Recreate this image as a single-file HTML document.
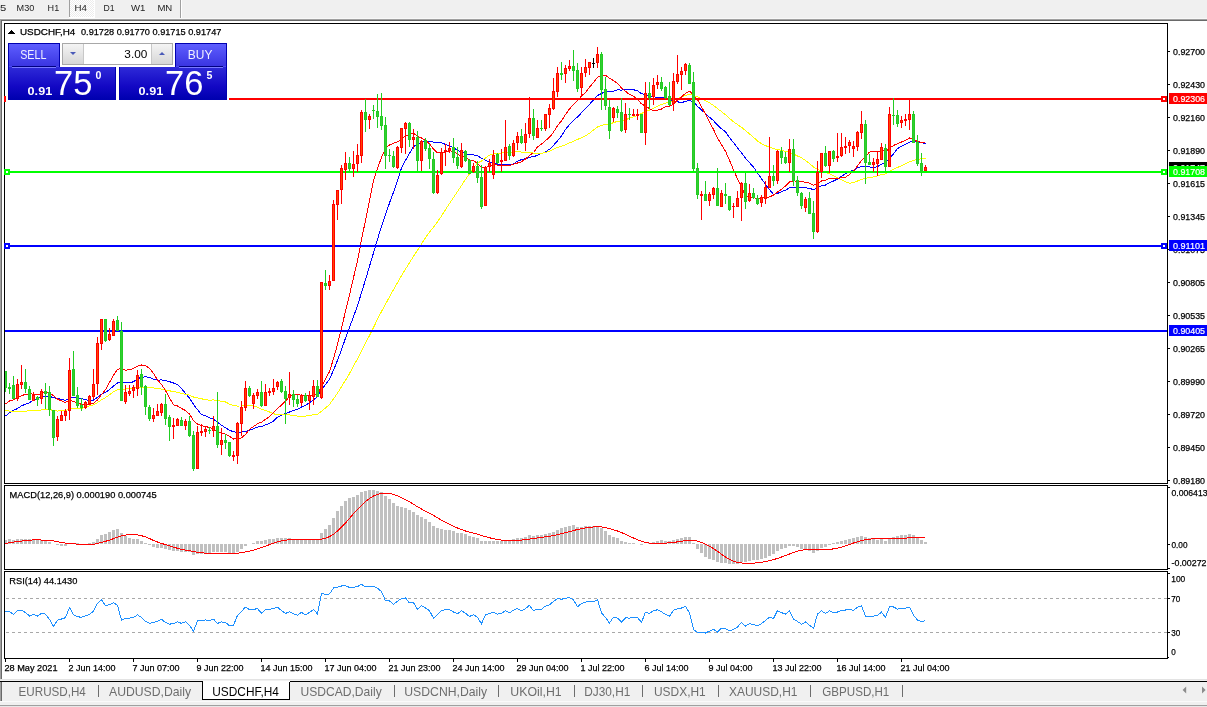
<!DOCTYPE html>
<html><head><meta charset="utf-8"><title>USDCHF,H4</title>
<style>html,body{margin:0;padding:0;background:#fff;overflow:hidden}svg{display:block}text{font-family:"Liberation Sans",Arial,sans-serif}.b{stroke:#000;stroke-width:0.25px}.w{stroke:#fff;stroke-width:0.2px}</style>
</head><body>
<svg width="1207" height="707" viewBox="0 0 1207 707">
<rect x="0" y="0" width="1207" height="19" fill="#f0f0f0"/>
<defs><pattern id="dith" x="0" y="0" width="2" height="2" patternUnits="userSpaceOnUse"><rect width="2" height="2" fill="#ffffff"/><rect width="1" height="1" fill="#ececec"/><rect x="1" y="1" width="1" height="1" fill="#ececec"/></pattern></defs>
<g shape-rendering="crispEdges">
<rect x="69" y="0" width="26" height="18" fill="#ffffff"/>
<rect x="70" y="0" width="24" height="17" fill="url(#dith)"/>
<rect x="69" y="0" width="1" height="17" fill="#a0a0a0"/>
</g>
<rect x="180" y="0" width="1" height="18" fill="#a0a0a0"/>
<rect x="181" y="0" width="1" height="18" fill="#ffffff"/>
<text x="-15.6" y="11" font-size="9.5" fill="#1e1e1e" textLength="21.9" lengthAdjust="spacingAndGlyphs">M15</text>
<text x="16.6" y="11" font-size="9.5" fill="#1e1e1e" textLength="17.7" lengthAdjust="spacingAndGlyphs">M30</text>
<text x="47.6" y="11" font-size="9.5" fill="#1e1e1e" textLength="11.6" lengthAdjust="spacingAndGlyphs">H1</text>
<text x="74.6" y="11" font-size="9.5" fill="#1e1e1e" textLength="12.4" lengthAdjust="spacingAndGlyphs">H4</text>
<text x="103.6" y="11" font-size="9.5" fill="#1e1e1e" textLength="11.1" lengthAdjust="spacingAndGlyphs">D1</text>
<text x="130.9" y="11" font-size="9.5" fill="#1e1e1e" textLength="14.4" lengthAdjust="spacingAndGlyphs">W1</text>
<text x="157.4" y="11" font-size="9.5" fill="#1e1e1e" textLength="14.9" lengthAdjust="spacingAndGlyphs">MN</text>
<rect x="0" y="18" width="1207" height="1" fill="#f8f8f8"/>
<rect x="0" y="19" width="1207" height="1" fill="#a0a0a0"/>
<rect x="0" y="20" width="1207" height="1" fill="#696969"/>
<rect x="0" y="19" width="1" height="661" fill="#a0a0a0"/>
<rect x="1" y="20" width="1" height="660" fill="#696969"/>
<g shape-rendering="crispEdges">
<rect x="4" y="23" width="1164" height="1" fill="#000"/>
<rect x="4" y="483" width="1164" height="1" fill="#000"/>
<rect x="4" y="23" width="1" height="461" fill="#000"/>
<rect x="1167" y="23" width="1" height="461" fill="#000"/>
<rect x="4" y="485" width="1164" height="1" fill="#000"/>
<rect x="4" y="569" width="1164" height="1" fill="#000"/>
<rect x="4" y="485" width="1" height="85" fill="#000"/>
<rect x="1167" y="485" width="1" height="85" fill="#000"/>
<rect x="4" y="571" width="1164" height="1" fill="#000"/>
<rect x="4" y="658" width="1164" height="1" fill="#000"/>
<rect x="4" y="571" width="1" height="88" fill="#000"/>
<rect x="1167" y="571" width="1" height="88" fill="#000"/>
</g>
<defs><clipPath id="cm"><rect x="5" y="24" width="1162" height="459"/></clipPath><clipPath id="cd"><rect x="5" y="486" width="1162" height="83"/></clipPath><clipPath id="cr"><rect x="5" y="572" width="1162" height="86"/></clipPath></defs>
<g clip-path="url(#cm)" shape-rendering="crispEdges">
<polyline points="5.50,415.93 9.50,412.83 13.50,410.21 17.50,408.56 21.50,405.84 25.50,404.17 29.50,402.70 33.50,399.97 37.50,398.44 41.50,397.28 45.50,396.22 49.50,396.32 53.50,397.75 57.50,398.28 61.50,399.47 65.50,400.45 69.50,398.47 73.50,397.39 77.50,397.89 81.50,398.50 85.50,399.88 89.50,400.28 93.50,400.04 97.50,397.38 101.50,394.30 105.50,392.33 109.50,389.72 113.50,385.94 117.50,382.90 121.50,382.94 125.50,382.97 129.50,382.83 133.50,381.74 137.50,378.74 141.50,377.21 145.50,376.83 149.50,377.24 153.50,379.38 157.50,380.08 161.50,379.98 165.50,380.48 169.50,381.65 173.50,383.01 177.50,384.69 181.50,388.64 185.50,393.47 189.50,398.01 193.50,404.40 197.50,409.70 201.50,414.46 205.50,415.77 209.50,417.65 213.50,419.35 217.50,422.09 221.50,425.19 225.50,427.83 229.50,430.16 233.50,431.86 237.50,432.23 241.50,432.04 245.50,431.30 249.50,430.22 253.50,428.70 257.50,427.13 261.50,426.52 265.50,424.90 269.50,423.48 273.50,421.20 277.50,417.09 281.50,415.16 285.50,413.65 289.50,412.00 293.50,410.49 297.50,409.40 301.50,407.04 305.50,405.20 309.50,402.94 313.50,399.62 317.50,396.85 321.50,390.14 325.50,384.38 329.50,379.29 333.50,370.14 337.50,360.40 341.50,349.72 345.50,338.12 349.50,327.48 353.50,316.69 357.50,305.58 361.50,292.71 365.50,279.77 369.50,266.27 373.50,252.78 377.50,239.30 381.50,226.07 385.50,214.67 389.50,202.99 393.50,192.14 397.50,180.76 401.50,167.96 405.50,160.39 409.50,153.42 413.50,146.57 417.50,144.50 421.50,142.16 425.50,141.25 429.50,141.09 433.50,142.25 437.50,142.76 441.50,142.62 445.50,144.44 449.50,145.77 453.50,147.77 457.50,150.36 461.50,151.97 465.50,153.64 469.50,154.49 473.50,154.96 477.50,155.48 481.50,158.33 485.50,160.18 489.50,162.09 493.50,162.82 497.50,164.06 501.50,164.04 505.50,164.32 509.50,164.64 513.50,163.86 517.50,161.14 521.50,159.63 525.50,158.77 529.50,157.24 533.50,156.69 537.50,155.27 541.50,153.51 545.50,151.79 549.50,149.28 553.50,145.34 557.50,140.91 561.50,136.01 565.50,129.38 569.50,124.58 573.50,120.20 577.50,117.04 581.50,112.75 585.50,108.31 589.50,104.27 593.50,99.85 597.50,95.61 601.50,93.42 605.50,91.68 609.50,91.52 613.50,91.05 617.50,89.93 621.50,90.06 625.50,89.38 629.50,89.43 633.50,89.72 637.50,90.82 641.50,93.66 645.50,94.51 649.50,95.94 653.50,96.84 657.50,97.37 661.50,97.39 665.50,98.58 669.50,100.38 673.50,101.29 677.50,101.81 681.50,102.61 685.50,101.36 689.50,100.27 693.50,102.08 697.50,106.24 701.50,110.10 705.50,113.44 709.50,117.23 713.50,120.69 717.50,125.09 721.50,128.84 725.50,131.88 729.50,137.46 733.50,142.59 737.50,147.97 741.50,152.77 745.50,158.14 749.50,162.67 753.50,167.11 757.50,172.97 761.50,178.83 765.50,184.37 769.50,189.72 773.50,194.35 777.50,193.50 781.50,191.70 785.50,190.23 789.50,187.78 793.50,187.18 797.50,187.41 801.50,187.38 805.50,187.65 809.50,188.49 813.50,189.53 817.50,187.93 821.50,185.80 825.50,185.02 829.50,182.61 833.50,180.98 837.50,178.96 841.50,176.25 845.50,173.80 849.50,171.66 853.50,170.23 857.50,167.90 861.50,166.62 865.50,166.87 869.50,166.96 873.50,167.58 877.50,166.52 881.50,164.33 885.50,162.50 889.50,158.47 893.50,153.79 897.50,148.63 901.50,146.16 905.50,144.51 909.50,142.02 913.50,141.61 917.50,141.86 921.50,142.60 925.50,143.55" fill="none" stroke="#0000ff" stroke-width="1"/>
<polyline points="5.50,410.09 9.50,411.06 13.50,411.90 17.50,411.53 21.50,411.27 25.50,411.18 29.50,410.67 33.50,410.21 37.50,410.11 41.50,409.99 45.50,409.69 49.50,409.59 53.50,410.44 57.50,411.05 61.50,410.67 65.50,410.36 69.50,409.24 73.50,408.55 77.50,408.37 81.50,408.52 85.50,407.22 89.50,405.78 93.50,404.92 97.50,402.51 101.50,399.90 105.50,397.63 109.50,394.68 113.50,391.89 117.50,389.77 121.50,389.41 125.50,389.01 129.50,388.58 133.50,388.06 137.50,387.68 141.50,387.61 145.50,387.49 149.50,387.49 153.50,387.99 157.50,388.39 161.50,389.14 165.50,389.91 169.50,390.85 173.50,391.50 177.50,392.38 181.50,393.49 185.50,394.28 189.50,395.17 193.50,397.01 197.50,397.80 201.50,398.79 205.50,399.68 209.50,400.21 213.50,399.92 217.50,400.56 221.50,401.19 225.50,401.98 229.50,404.12 233.50,405.59 237.50,406.02 241.50,406.00 245.50,405.63 249.50,405.62 253.50,405.90 257.50,407.12 261.50,409.30 265.50,410.59 269.50,412.00 273.50,413.68 277.50,414.96 281.50,414.71 285.50,414.90 289.50,414.99 293.50,415.31 297.50,416.02 301.50,416.22 305.50,416.08 309.50,415.48 313.50,414.75 317.50,414.40 321.50,411.36 325.50,408.04 329.50,404.39 333.50,398.87 337.50,393.14 341.50,386.69 345.50,380.25 349.50,373.56 353.50,365.94 357.50,359.02 361.50,351.04 365.50,343.31 369.50,335.42 373.50,327.54 377.50,319.34 381.50,311.48 385.50,304.31 389.50,296.82 393.50,289.62 397.50,282.73 401.50,275.75 405.50,269.13 409.50,262.72 413.50,256.27 417.50,250.49 421.50,243.85 425.50,237.77 429.50,231.99 433.50,227.11 437.50,221.92 441.50,215.94 445.50,209.70 449.50,203.54 453.50,197.49 457.50,191.54 461.50,185.43 465.50,179.41 469.50,173.88 473.50,168.38 477.50,162.90 481.50,161.03 485.50,158.05 489.50,155.10 493.50,153.88 497.50,153.19 501.50,153.00 505.50,152.60 509.50,152.28 513.50,151.75 517.50,151.28 521.50,152.06 525.50,152.41 529.50,152.46 533.50,153.10 537.50,153.38 541.50,153.45 545.50,152.42 549.50,151.21 553.50,149.31 557.50,147.45 561.50,146.12 565.50,144.75 569.50,142.91 573.50,141.26 577.50,139.46 581.50,137.75 585.50,135.71 589.50,133.28 593.50,130.02 597.50,127.00 601.50,125.45 605.50,124.36 609.50,123.93 613.50,122.68 617.50,121.37 621.50,120.88 625.50,119.72 629.50,118.26 633.50,116.96 637.50,115.36 641.50,113.50 645.50,111.65 649.50,110.03 653.50,108.28 657.50,106.25 661.50,104.46 665.50,103.24 669.50,101.97 673.50,100.43 677.50,98.88 681.50,97.07 685.50,95.31 689.50,94.45 693.50,95.26 697.50,96.95 701.50,98.58 705.50,100.74 709.50,102.89 713.50,105.32 717.50,108.65 721.50,111.60 725.50,114.81 729.50,118.41 733.50,121.78 737.50,124.51 741.50,127.26 745.50,130.62 749.50,133.90 753.50,137.28 757.50,141.04 761.50,143.71 765.50,145.73 769.50,146.87 773.50,148.69 777.50,149.63 781.50,150.31 785.50,151.53 789.50,152.37 793.50,154.06 797.50,156.03 801.50,157.85 805.50,160.50 809.50,163.40 813.50,167.07 817.50,169.32 821.50,170.93 825.50,172.64 829.50,173.79 833.50,175.74 837.50,177.79 841.50,179.69 845.50,181.75 849.50,183.21 853.50,182.64 857.50,181.05 861.50,179.30 865.50,178.36 869.50,177.63 873.50,176.99 877.50,175.81 881.50,174.66 885.50,173.93 889.50,171.53 893.50,169.28 897.50,167.42 901.50,165.85 905.50,163.78 909.50,161.80 913.50,160.41 917.50,159.41 921.50,158.77 925.50,158.27" fill="none" stroke="#ffff00" stroke-width="1"/>
<polyline points="5.50,404.10 9.50,401.00 13.50,399.80 17.50,397.53 21.50,395.68 25.50,394.32 29.50,393.78 33.50,394.14 37.50,394.88 41.50,393.44 45.50,391.61 49.50,392.67 53.50,395.73 57.50,398.99 61.50,400.91 65.50,402.46 69.50,400.39 73.50,401.28 77.50,402.97 81.50,404.33 85.50,404.47 89.50,404.57 93.50,403.40 97.50,399.94 101.50,394.64 105.50,389.69 109.50,382.28 113.50,375.28 117.50,369.28 121.50,368.61 125.50,370.19 129.50,369.78 133.50,368.44 137.50,366.09 141.50,364.99 145.50,365.74 149.50,368.26 153.50,373.40 157.50,379.95 161.50,384.44 165.50,390.46 169.50,398.03 173.50,404.74 177.50,406.02 181.50,408.45 185.50,410.59 189.50,414.09 193.50,420.78 197.50,424.00 201.50,425.73 205.50,426.41 209.50,427.59 213.50,428.69 217.50,431.61 221.50,433.14 225.50,434.26 229.50,436.46 233.50,439.01 237.50,438.79 241.50,437.81 245.50,434.37 249.50,429.19 253.50,426.54 257.50,423.75 261.50,422.14 265.50,419.34 269.50,416.79 273.50,412.76 277.50,408.63 281.50,404.99 285.50,400.96 289.50,396.63 293.50,394.97 297.50,394.73 301.50,395.24 305.50,395.62 309.50,395.62 313.50,395.19 317.50,394.51 321.50,386.64 325.50,379.16 329.50,371.49 333.50,358.77 337.50,344.39 341.50,327.86 345.50,311.33 349.50,294.82 353.50,277.71 357.50,260.56 361.50,239.89 365.50,220.24 369.50,200.94 373.50,180.51 377.50,168.71 381.50,157.26 385.50,148.31 389.50,144.89 393.50,143.24 397.50,141.75 401.50,139.26 405.50,136.00 409.50,134.26 413.50,132.98 417.50,136.46 421.50,137.96 425.50,140.34 429.50,143.79 433.50,149.25 437.50,152.74 441.50,152.49 445.50,152.06 449.50,150.69 453.50,151.44 457.50,154.11 461.50,156.09 465.50,157.59 469.50,160.20 473.50,160.58 477.50,163.21 481.50,167.37 485.50,167.91 489.50,165.75 493.50,164.35 497.50,165.13 501.50,165.86 505.50,165.79 509.50,165.65 513.50,164.04 517.50,163.00 521.50,161.74 525.50,158.91 529.50,155.47 533.50,152.51 537.50,146.85 541.50,144.11 545.50,140.64 549.50,137.28 553.50,132.13 557.50,125.89 561.50,120.75 565.50,114.48 569.50,108.99 573.50,104.35 577.50,100.46 581.50,96.10 585.50,92.47 589.50,87.16 593.50,82.52 597.50,77.19 601.50,75.45 605.50,75.34 609.50,78.18 613.50,80.68 617.50,83.39 621.50,87.87 625.50,91.31 629.50,94.49 633.50,96.30 637.50,99.24 641.50,103.91 645.50,106.11 649.50,108.61 653.50,110.84 657.50,110.27 661.50,109.02 665.50,106.68 669.50,106.47 673.50,104.20 677.50,100.15 681.50,97.04 685.50,93.34 689.50,91.16 693.50,95.06 697.50,99.55 701.50,106.77 705.50,114.11 709.50,121.90 713.50,129.46 717.50,137.85 721.50,144.64 725.50,151.16 729.50,160.37 733.50,169.78 737.50,178.86 741.50,187.39 745.50,195.82 749.50,197.57 753.50,197.78 757.50,198.49 761.50,198.24 765.50,197.74 769.50,196.89 773.50,195.06 777.50,192.04 781.50,189.28 785.50,185.94 789.50,181.89 793.50,180.71 797.50,181.43 801.50,181.71 805.50,182.11 809.50,183.23 813.50,185.22 817.50,183.44 821.50,181.01 825.50,180.33 829.50,178.21 833.50,178.79 837.50,178.67 841.50,177.51 845.50,177.27 849.50,174.46 853.50,171.11 857.50,165.83 861.50,160.50 865.50,156.85 869.50,152.07 873.50,151.36 877.50,151.79 881.50,150.40 885.50,151.54 889.50,148.34 893.50,145.46 897.50,143.79 901.50,141.98 905.50,140.30 909.50,138.01 913.50,138.79 917.50,141.65 921.50,142.26 925.50,142.41" fill="none" stroke="#ff0000" stroke-width="1"/>
<rect x="4" y="98" width="1163" height="2" fill="#ff0000"/>
<rect x="1161" y="96" width="6" height="6" fill="#ff0000"/>
<rect x="1163" y="98" width="2" height="2" fill="#ffffff"/>
<rect x="4" y="171" width="1163" height="2" fill="#00ff00"/>
<rect x="1161" y="169" width="6" height="6" fill="#00ff00"/>
<rect x="1163" y="171" width="2" height="2" fill="#ffffff"/>
<rect x="4" y="245" width="1163" height="2" fill="#0000ff"/>
<rect x="1161" y="243" width="6" height="6" fill="#0000ff"/>
<rect x="1163" y="245" width="2" height="2" fill="#ffffff"/>
<rect x="4" y="330" width="1163" height="2" fill="#0000ff"/>
<rect x="5" y="371" width="1" height="21" fill="#22cc22"/>
<rect x="4" y="371" width="3" height="17" fill="#22cc22"/>
<rect x="5" y="372" width="1" height="15" fill="#32cd32"/>
<rect x="9" y="383" width="1" height="11" fill="#22cc22"/>
<rect x="8" y="387" width="3" height="2" fill="#22cc22"/>
<rect x="13" y="376" width="1" height="23" fill="#22cc22"/>
<rect x="12" y="385" width="3" height="14" fill="#22cc22"/>
<rect x="13" y="386" width="1" height="12" fill="#32cd32"/>
<rect x="17" y="379" width="1" height="22" fill="#ff0000"/>
<rect x="16" y="384" width="3" height="15" fill="#ff0000"/>
<rect x="17" y="385" width="1" height="13" fill="#ff4500"/>
<rect x="21" y="365" width="1" height="24" fill="#ff0000"/>
<rect x="20" y="382" width="3" height="3" fill="#ff0000"/>
<rect x="21" y="383" width="1" height="1" fill="#ff4500"/>
<rect x="25" y="369" width="1" height="24" fill="#22cc22"/>
<rect x="24" y="382" width="3" height="7" fill="#22cc22"/>
<rect x="25" y="383" width="1" height="5" fill="#32cd32"/>
<rect x="29" y="386" width="1" height="14" fill="#22cc22"/>
<rect x="28" y="389" width="3" height="11" fill="#22cc22"/>
<rect x="29" y="390" width="1" height="9" fill="#32cd32"/>
<rect x="33" y="392" width="1" height="9" fill="#ff0000"/>
<rect x="32" y="395" width="3" height="6" fill="#ff0000"/>
<rect x="33" y="396" width="1" height="4" fill="#ff4500"/>
<rect x="37" y="396" width="1" height="10" fill="#22cc22"/>
<rect x="36" y="397" width="3" height="3" fill="#22cc22"/>
<rect x="37" y="398" width="1" height="1" fill="#32cd32"/>
<rect x="41" y="389" width="1" height="15" fill="#ff0000"/>
<rect x="40" y="391" width="3" height="8" fill="#ff0000"/>
<rect x="41" y="392" width="1" height="6" fill="#ff4500"/>
<rect x="45" y="383" width="1" height="26" fill="#22cc22"/>
<rect x="44" y="391" width="3" height="3" fill="#22cc22"/>
<rect x="45" y="392" width="1" height="1" fill="#32cd32"/>
<rect x="49" y="386" width="1" height="30" fill="#22cc22"/>
<rect x="48" y="392" width="3" height="18" fill="#22cc22"/>
<rect x="49" y="393" width="1" height="16" fill="#32cd32"/>
<rect x="53" y="410" width="1" height="36" fill="#22cc22"/>
<rect x="52" y="410" width="3" height="28" fill="#22cc22"/>
<rect x="53" y="411" width="1" height="26" fill="#32cd32"/>
<rect x="57" y="416" width="1" height="25" fill="#ff0000"/>
<rect x="56" y="419" width="3" height="18" fill="#ff0000"/>
<rect x="57" y="420" width="1" height="16" fill="#ff4500"/>
<rect x="61" y="411" width="1" height="10" fill="#ff0000"/>
<rect x="60" y="415" width="3" height="6" fill="#ff0000"/>
<rect x="61" y="416" width="1" height="4" fill="#ff4500"/>
<rect x="65" y="409" width="1" height="12" fill="#ff0000"/>
<rect x="64" y="411" width="3" height="5" fill="#ff0000"/>
<rect x="65" y="412" width="1" height="3" fill="#ff4500"/>
<rect x="69" y="358" width="1" height="62" fill="#ff0000"/>
<rect x="68" y="370" width="3" height="41" fill="#ff0000"/>
<rect x="69" y="371" width="1" height="39" fill="#ff4500"/>
<rect x="73" y="351" width="1" height="45" fill="#22cc22"/>
<rect x="72" y="369" width="3" height="27" fill="#22cc22"/>
<rect x="73" y="370" width="1" height="25" fill="#32cd32"/>
<rect x="77" y="387" width="1" height="21" fill="#22cc22"/>
<rect x="76" y="395" width="3" height="11" fill="#22cc22"/>
<rect x="77" y="396" width="1" height="9" fill="#32cd32"/>
<rect x="81" y="398" width="1" height="13" fill="#22cc22"/>
<rect x="80" y="405" width="3" height="3" fill="#22cc22"/>
<rect x="81" y="406" width="1" height="1" fill="#32cd32"/>
<rect x="85" y="401" width="1" height="8" fill="#ff0000"/>
<rect x="84" y="402" width="3" height="6" fill="#ff0000"/>
<rect x="85" y="403" width="1" height="4" fill="#ff4500"/>
<rect x="89" y="395" width="1" height="10" fill="#ff0000"/>
<rect x="88" y="396" width="3" height="8" fill="#ff0000"/>
<rect x="89" y="397" width="1" height="6" fill="#ff4500"/>
<rect x="93" y="369" width="1" height="30" fill="#ff0000"/>
<rect x="92" y="384" width="3" height="13" fill="#ff0000"/>
<rect x="93" y="385" width="1" height="11" fill="#ff4500"/>
<rect x="97" y="337" width="1" height="58" fill="#ff0000"/>
<rect x="96" y="343" width="3" height="41" fill="#ff0000"/>
<rect x="97" y="344" width="1" height="39" fill="#ff4500"/>
<rect x="101" y="319" width="1" height="31" fill="#ff0000"/>
<rect x="100" y="319" width="3" height="25" fill="#ff0000"/>
<rect x="101" y="320" width="1" height="23" fill="#ff4500"/>
<rect x="105" y="319" width="1" height="23" fill="#22cc22"/>
<rect x="104" y="319" width="3" height="22" fill="#22cc22"/>
<rect x="105" y="320" width="1" height="20" fill="#32cd32"/>
<rect x="109" y="328" width="1" height="13" fill="#ff0000"/>
<rect x="108" y="334" width="3" height="6" fill="#ff0000"/>
<rect x="109" y="335" width="1" height="4" fill="#ff4500"/>
<rect x="113" y="319" width="1" height="17" fill="#ff0000"/>
<rect x="112" y="321" width="3" height="15" fill="#ff0000"/>
<rect x="113" y="322" width="1" height="13" fill="#ff4500"/>
<rect x="117" y="316" width="1" height="15" fill="#22cc22"/>
<rect x="116" y="320" width="3" height="11" fill="#22cc22"/>
<rect x="117" y="321" width="1" height="9" fill="#32cd32"/>
<rect x="121" y="322" width="1" height="79" fill="#22cc22"/>
<rect x="120" y="331" width="3" height="70" fill="#22cc22"/>
<rect x="121" y="332" width="1" height="68" fill="#32cd32"/>
<rect x="125" y="385" width="1" height="19" fill="#ff0000"/>
<rect x="124" y="392" width="3" height="10" fill="#ff0000"/>
<rect x="125" y="393" width="1" height="8" fill="#ff4500"/>
<rect x="129" y="385" width="1" height="11" fill="#ff0000"/>
<rect x="128" y="391" width="3" height="3" fill="#ff0000"/>
<rect x="129" y="392" width="1" height="1" fill="#ff4500"/>
<rect x="133" y="385" width="1" height="13" fill="#ff0000"/>
<rect x="132" y="387" width="3" height="4" fill="#ff0000"/>
<rect x="133" y="388" width="1" height="2" fill="#ff4500"/>
<rect x="137" y="370" width="1" height="26" fill="#ff0000"/>
<rect x="136" y="375" width="3" height="14" fill="#ff0000"/>
<rect x="137" y="376" width="1" height="12" fill="#ff4500"/>
<rect x="141" y="369" width="1" height="26" fill="#22cc22"/>
<rect x="140" y="374" width="3" height="13" fill="#22cc22"/>
<rect x="141" y="375" width="1" height="11" fill="#32cd32"/>
<rect x="145" y="385" width="1" height="30" fill="#22cc22"/>
<rect x="144" y="386" width="3" height="21" fill="#22cc22"/>
<rect x="145" y="387" width="1" height="19" fill="#32cd32"/>
<rect x="149" y="405" width="1" height="16" fill="#22cc22"/>
<rect x="148" y="407" width="3" height="12" fill="#22cc22"/>
<rect x="149" y="408" width="1" height="10" fill="#32cd32"/>
<rect x="153" y="408" width="1" height="14" fill="#ff0000"/>
<rect x="152" y="415" width="3" height="4" fill="#ff0000"/>
<rect x="153" y="416" width="1" height="2" fill="#ff4500"/>
<rect x="157" y="404" width="1" height="12" fill="#ff0000"/>
<rect x="156" y="411" width="3" height="5" fill="#ff0000"/>
<rect x="157" y="412" width="1" height="3" fill="#ff4500"/>
<rect x="161" y="403" width="1" height="13" fill="#ff0000"/>
<rect x="160" y="404" width="3" height="9" fill="#ff0000"/>
<rect x="161" y="405" width="1" height="7" fill="#ff4500"/>
<rect x="165" y="394" width="1" height="31" fill="#22cc22"/>
<rect x="164" y="404" width="3" height="15" fill="#22cc22"/>
<rect x="165" y="405" width="1" height="13" fill="#32cd32"/>
<rect x="169" y="415" width="1" height="26" fill="#22cc22"/>
<rect x="168" y="417" width="3" height="10" fill="#22cc22"/>
<rect x="169" y="418" width="1" height="8" fill="#32cd32"/>
<rect x="173" y="418" width="1" height="21" fill="#ff0000"/>
<rect x="172" y="425" width="3" height="2" fill="#ff0000"/>
<rect x="177" y="418" width="1" height="8" fill="#ff0000"/>
<rect x="176" y="419" width="3" height="7" fill="#ff0000"/>
<rect x="177" y="420" width="1" height="5" fill="#ff4500"/>
<rect x="181" y="417" width="1" height="9" fill="#22cc22"/>
<rect x="180" y="420" width="3" height="6" fill="#22cc22"/>
<rect x="181" y="421" width="1" height="4" fill="#32cd32"/>
<rect x="185" y="419" width="1" height="11" fill="#ff0000"/>
<rect x="184" y="421" width="3" height="5" fill="#ff0000"/>
<rect x="185" y="422" width="1" height="3" fill="#ff4500"/>
<rect x="189" y="416" width="1" height="21" fill="#22cc22"/>
<rect x="188" y="421" width="3" height="15" fill="#22cc22"/>
<rect x="189" y="422" width="1" height="13" fill="#32cd32"/>
<rect x="193" y="431" width="1" height="40" fill="#22cc22"/>
<rect x="192" y="435" width="3" height="34" fill="#22cc22"/>
<rect x="193" y="436" width="1" height="32" fill="#32cd32"/>
<rect x="197" y="426" width="1" height="43" fill="#ff0000"/>
<rect x="196" y="432" width="3" height="37" fill="#ff0000"/>
<rect x="197" y="433" width="1" height="35" fill="#ff4500"/>
<rect x="201" y="424" width="1" height="12" fill="#ff0000"/>
<rect x="200" y="431" width="3" height="2" fill="#ff0000"/>
<rect x="205" y="426" width="1" height="11" fill="#ff0000"/>
<rect x="204" y="429" width="3" height="3" fill="#ff0000"/>
<rect x="205" y="430" width="1" height="1" fill="#ff4500"/>
<rect x="209" y="427" width="1" height="7" fill="#22cc22"/>
<rect x="208" y="430" width="3" height="1" fill="#22cc22"/>
<rect x="213" y="416" width="1" height="21" fill="#ff0000"/>
<rect x="212" y="426" width="3" height="5" fill="#ff0000"/>
<rect x="213" y="427" width="1" height="3" fill="#ff4500"/>
<rect x="217" y="392" width="1" height="56" fill="#22cc22"/>
<rect x="216" y="426" width="3" height="19" fill="#22cc22"/>
<rect x="217" y="427" width="1" height="17" fill="#32cd32"/>
<rect x="221" y="428" width="1" height="27" fill="#ff0000"/>
<rect x="220" y="440" width="3" height="5" fill="#ff0000"/>
<rect x="221" y="441" width="1" height="3" fill="#ff4500"/>
<rect x="225" y="434" width="1" height="15" fill="#22cc22"/>
<rect x="224" y="440" width="3" height="3" fill="#22cc22"/>
<rect x="225" y="441" width="1" height="1" fill="#32cd32"/>
<rect x="229" y="442" width="1" height="15" fill="#22cc22"/>
<rect x="228" y="442" width="3" height="14" fill="#22cc22"/>
<rect x="229" y="443" width="1" height="12" fill="#32cd32"/>
<rect x="233" y="451" width="1" height="10" fill="#ff0000"/>
<rect x="232" y="455" width="3" height="2" fill="#ff0000"/>
<rect x="237" y="422" width="1" height="42" fill="#ff0000"/>
<rect x="236" y="423" width="3" height="33" fill="#ff0000"/>
<rect x="237" y="424" width="1" height="31" fill="#ff4500"/>
<rect x="241" y="401" width="1" height="35" fill="#ff0000"/>
<rect x="240" y="407" width="3" height="17" fill="#ff0000"/>
<rect x="241" y="408" width="1" height="15" fill="#ff4500"/>
<rect x="245" y="381" width="1" height="30" fill="#ff0000"/>
<rect x="244" y="388" width="3" height="20" fill="#ff0000"/>
<rect x="245" y="389" width="1" height="18" fill="#ff4500"/>
<rect x="249" y="386" width="1" height="11" fill="#22cc22"/>
<rect x="248" y="388" width="3" height="8" fill="#22cc22"/>
<rect x="249" y="389" width="1" height="6" fill="#32cd32"/>
<rect x="253" y="393" width="1" height="16" fill="#ff0000"/>
<rect x="252" y="395" width="3" height="9" fill="#ff0000"/>
<rect x="253" y="396" width="1" height="7" fill="#ff4500"/>
<rect x="257" y="389" width="1" height="10" fill="#ff0000"/>
<rect x="256" y="392" width="3" height="4" fill="#ff0000"/>
<rect x="257" y="393" width="1" height="2" fill="#ff4500"/>
<rect x="261" y="381" width="1" height="26" fill="#22cc22"/>
<rect x="260" y="392" width="3" height="14" fill="#22cc22"/>
<rect x="261" y="393" width="1" height="12" fill="#32cd32"/>
<rect x="265" y="384" width="1" height="22" fill="#ff0000"/>
<rect x="264" y="392" width="3" height="14" fill="#ff0000"/>
<rect x="265" y="393" width="1" height="12" fill="#ff4500"/>
<rect x="269" y="388" width="1" height="8" fill="#ff0000"/>
<rect x="268" y="391" width="3" height="2" fill="#ff0000"/>
<rect x="273" y="379" width="1" height="16" fill="#ff0000"/>
<rect x="272" y="388" width="3" height="4" fill="#ff0000"/>
<rect x="273" y="389" width="1" height="2" fill="#ff4500"/>
<rect x="277" y="381" width="1" height="9" fill="#ff0000"/>
<rect x="276" y="382" width="3" height="5" fill="#ff0000"/>
<rect x="277" y="383" width="1" height="3" fill="#ff4500"/>
<rect x="281" y="379" width="1" height="14" fill="#22cc22"/>
<rect x="280" y="381" width="3" height="11" fill="#22cc22"/>
<rect x="281" y="382" width="1" height="9" fill="#32cd32"/>
<rect x="285" y="386" width="1" height="38" fill="#22cc22"/>
<rect x="284" y="391" width="3" height="8" fill="#22cc22"/>
<rect x="285" y="392" width="1" height="6" fill="#32cd32"/>
<rect x="289" y="372" width="1" height="33" fill="#ff0000"/>
<rect x="288" y="394" width="3" height="4" fill="#ff0000"/>
<rect x="289" y="395" width="1" height="2" fill="#ff4500"/>
<rect x="293" y="390" width="1" height="17" fill="#22cc22"/>
<rect x="292" y="394" width="3" height="6" fill="#22cc22"/>
<rect x="293" y="395" width="1" height="4" fill="#32cd32"/>
<rect x="297" y="395" width="1" height="12" fill="#22cc22"/>
<rect x="296" y="399" width="3" height="5" fill="#22cc22"/>
<rect x="297" y="400" width="1" height="3" fill="#32cd32"/>
<rect x="301" y="394" width="1" height="12" fill="#ff0000"/>
<rect x="300" y="395" width="3" height="8" fill="#ff0000"/>
<rect x="301" y="396" width="1" height="6" fill="#ff4500"/>
<rect x="305" y="393" width="1" height="9" fill="#22cc22"/>
<rect x="304" y="395" width="3" height="6" fill="#22cc22"/>
<rect x="305" y="396" width="1" height="4" fill="#32cd32"/>
<rect x="309" y="391" width="1" height="19" fill="#ff0000"/>
<rect x="308" y="395" width="3" height="6" fill="#ff0000"/>
<rect x="309" y="396" width="1" height="4" fill="#ff4500"/>
<rect x="313" y="380" width="1" height="25" fill="#ff0000"/>
<rect x="312" y="386" width="3" height="11" fill="#ff0000"/>
<rect x="313" y="387" width="1" height="9" fill="#ff4500"/>
<rect x="317" y="380" width="1" height="17" fill="#22cc22"/>
<rect x="316" y="386" width="3" height="11" fill="#22cc22"/>
<rect x="317" y="387" width="1" height="9" fill="#32cd32"/>
<rect x="321" y="282" width="1" height="117" fill="#ff0000"/>
<rect x="320" y="282" width="3" height="116" fill="#ff0000"/>
<rect x="321" y="283" width="1" height="114" fill="#ff4500"/>
<rect x="325" y="270" width="1" height="20" fill="#22cc22"/>
<rect x="324" y="283" width="3" height="3" fill="#22cc22"/>
<rect x="325" y="284" width="1" height="1" fill="#32cd32"/>
<rect x="329" y="275" width="1" height="15" fill="#ff0000"/>
<rect x="328" y="281" width="3" height="5" fill="#ff0000"/>
<rect x="329" y="282" width="1" height="3" fill="#ff4500"/>
<rect x="333" y="200" width="1" height="81" fill="#ff0000"/>
<rect x="332" y="204" width="3" height="77" fill="#ff0000"/>
<rect x="333" y="205" width="1" height="75" fill="#ff4500"/>
<rect x="337" y="190" width="1" height="30" fill="#ff0000"/>
<rect x="336" y="190" width="3" height="15" fill="#ff0000"/>
<rect x="337" y="191" width="1" height="13" fill="#ff4500"/>
<rect x="341" y="165" width="1" height="39" fill="#ff0000"/>
<rect x="340" y="168" width="3" height="22" fill="#ff0000"/>
<rect x="341" y="169" width="1" height="20" fill="#ff4500"/>
<rect x="345" y="152" width="1" height="28" fill="#ff0000"/>
<rect x="344" y="163" width="3" height="7" fill="#ff0000"/>
<rect x="345" y="164" width="1" height="5" fill="#ff4500"/>
<rect x="349" y="157" width="1" height="15" fill="#22cc22"/>
<rect x="348" y="163" width="3" height="6" fill="#22cc22"/>
<rect x="349" y="164" width="1" height="4" fill="#32cd32"/>
<rect x="353" y="151" width="1" height="26" fill="#ff0000"/>
<rect x="352" y="164" width="3" height="5" fill="#ff0000"/>
<rect x="353" y="165" width="1" height="3" fill="#ff4500"/>
<rect x="357" y="144" width="1" height="28" fill="#ff0000"/>
<rect x="356" y="155" width="3" height="9" fill="#ff0000"/>
<rect x="357" y="156" width="1" height="7" fill="#ff4500"/>
<rect x="361" y="110" width="1" height="53" fill="#ff0000"/>
<rect x="360" y="112" width="3" height="44" fill="#ff0000"/>
<rect x="361" y="113" width="1" height="42" fill="#ff4500"/>
<rect x="365" y="99" width="1" height="33" fill="#22cc22"/>
<rect x="364" y="112" width="3" height="8" fill="#22cc22"/>
<rect x="365" y="113" width="1" height="6" fill="#32cd32"/>
<rect x="369" y="114" width="1" height="15" fill="#ff0000"/>
<rect x="368" y="116" width="3" height="4" fill="#ff0000"/>
<rect x="369" y="117" width="1" height="2" fill="#ff4500"/>
<rect x="373" y="105" width="1" height="14" fill="#22cc22"/>
<rect x="372" y="110" width="3" height="1" fill="#22cc22"/>
<rect x="377" y="94" width="1" height="34" fill="#22cc22"/>
<rect x="376" y="111" width="3" height="6" fill="#22cc22"/>
<rect x="377" y="112" width="1" height="4" fill="#32cd32"/>
<rect x="381" y="93" width="1" height="37" fill="#22cc22"/>
<rect x="380" y="116" width="3" height="10" fill="#22cc22"/>
<rect x="381" y="117" width="1" height="8" fill="#32cd32"/>
<rect x="385" y="117" width="1" height="52" fill="#22cc22"/>
<rect x="384" y="125" width="3" height="31" fill="#22cc22"/>
<rect x="385" y="126" width="1" height="29" fill="#32cd32"/>
<rect x="389" y="149" width="1" height="13" fill="#22cc22"/>
<rect x="388" y="155" width="3" height="1" fill="#22cc22"/>
<rect x="393" y="151" width="1" height="17" fill="#22cc22"/>
<rect x="392" y="156" width="3" height="11" fill="#22cc22"/>
<rect x="393" y="157" width="1" height="9" fill="#32cd32"/>
<rect x="397" y="146" width="1" height="23" fill="#ff0000"/>
<rect x="396" y="147" width="3" height="21" fill="#ff0000"/>
<rect x="397" y="148" width="1" height="19" fill="#ff4500"/>
<rect x="401" y="128" width="1" height="25" fill="#ff0000"/>
<rect x="400" y="128" width="3" height="20" fill="#ff0000"/>
<rect x="401" y="129" width="1" height="18" fill="#ff4500"/>
<rect x="405" y="122" width="1" height="32" fill="#ff0000"/>
<rect x="404" y="123" width="3" height="6" fill="#ff0000"/>
<rect x="405" y="124" width="1" height="4" fill="#ff4500"/>
<rect x="409" y="122" width="1" height="25" fill="#22cc22"/>
<rect x="408" y="123" width="3" height="17" fill="#22cc22"/>
<rect x="409" y="124" width="1" height="15" fill="#32cd32"/>
<rect x="413" y="129" width="1" height="20" fill="#ff0000"/>
<rect x="412" y="137" width="3" height="3" fill="#ff0000"/>
<rect x="413" y="138" width="1" height="1" fill="#ff4500"/>
<rect x="417" y="131" width="1" height="40" fill="#22cc22"/>
<rect x="416" y="137" width="3" height="24" fill="#22cc22"/>
<rect x="417" y="138" width="1" height="22" fill="#32cd32"/>
<rect x="421" y="140" width="1" height="31" fill="#ff0000"/>
<rect x="420" y="141" width="3" height="20" fill="#ff0000"/>
<rect x="421" y="142" width="1" height="18" fill="#ff4500"/>
<rect x="425" y="138" width="1" height="13" fill="#22cc22"/>
<rect x="424" y="140" width="3" height="9" fill="#22cc22"/>
<rect x="425" y="141" width="1" height="7" fill="#32cd32"/>
<rect x="429" y="144" width="1" height="25" fill="#22cc22"/>
<rect x="428" y="148" width="3" height="11" fill="#22cc22"/>
<rect x="429" y="149" width="1" height="9" fill="#32cd32"/>
<rect x="433" y="152" width="1" height="42" fill="#22cc22"/>
<rect x="432" y="159" width="3" height="34" fill="#22cc22"/>
<rect x="433" y="160" width="1" height="32" fill="#32cd32"/>
<rect x="437" y="170" width="1" height="24" fill="#ff0000"/>
<rect x="436" y="175" width="3" height="18" fill="#ff0000"/>
<rect x="437" y="176" width="1" height="16" fill="#ff4500"/>
<rect x="441" y="148" width="1" height="27" fill="#ff0000"/>
<rect x="440" y="152" width="3" height="22" fill="#ff0000"/>
<rect x="441" y="153" width="1" height="20" fill="#ff4500"/>
<rect x="445" y="144" width="1" height="22" fill="#ff0000"/>
<rect x="444" y="150" width="3" height="2" fill="#ff0000"/>
<rect x="449" y="142" width="1" height="11" fill="#ff0000"/>
<rect x="448" y="148" width="3" height="3" fill="#ff0000"/>
<rect x="449" y="149" width="1" height="1" fill="#ff4500"/>
<rect x="453" y="138" width="1" height="25" fill="#22cc22"/>
<rect x="452" y="147" width="3" height="11" fill="#22cc22"/>
<rect x="453" y="148" width="1" height="9" fill="#32cd32"/>
<rect x="457" y="147" width="1" height="22" fill="#22cc22"/>
<rect x="456" y="157" width="3" height="9" fill="#22cc22"/>
<rect x="457" y="158" width="1" height="7" fill="#32cd32"/>
<rect x="461" y="143" width="1" height="25" fill="#ff0000"/>
<rect x="460" y="150" width="3" height="17" fill="#ff0000"/>
<rect x="461" y="151" width="1" height="15" fill="#ff4500"/>
<rect x="465" y="150" width="1" height="12" fill="#22cc22"/>
<rect x="464" y="151" width="3" height="10" fill="#22cc22"/>
<rect x="465" y="152" width="1" height="8" fill="#32cd32"/>
<rect x="469" y="159" width="1" height="15" fill="#22cc22"/>
<rect x="468" y="160" width="3" height="14" fill="#22cc22"/>
<rect x="469" y="161" width="1" height="12" fill="#32cd32"/>
<rect x="473" y="163" width="1" height="10" fill="#ff0000"/>
<rect x="472" y="166" width="3" height="6" fill="#ff0000"/>
<rect x="473" y="167" width="1" height="4" fill="#ff4500"/>
<rect x="477" y="161" width="1" height="22" fill="#22cc22"/>
<rect x="476" y="166" width="3" height="12" fill="#22cc22"/>
<rect x="477" y="167" width="1" height="10" fill="#32cd32"/>
<rect x="481" y="165" width="1" height="44" fill="#22cc22"/>
<rect x="480" y="177" width="3" height="30" fill="#22cc22"/>
<rect x="481" y="178" width="1" height="28" fill="#32cd32"/>
<rect x="485" y="166" width="1" height="40" fill="#ff0000"/>
<rect x="484" y="167" width="3" height="39" fill="#ff0000"/>
<rect x="485" y="168" width="1" height="37" fill="#ff4500"/>
<rect x="489" y="159" width="1" height="13" fill="#ff0000"/>
<rect x="488" y="163" width="3" height="4" fill="#ff0000"/>
<rect x="489" y="164" width="1" height="2" fill="#ff4500"/>
<rect x="493" y="150" width="1" height="29" fill="#ff0000"/>
<rect x="492" y="155" width="3" height="20" fill="#ff0000"/>
<rect x="493" y="156" width="1" height="18" fill="#ff4500"/>
<rect x="497" y="153" width="1" height="11" fill="#22cc22"/>
<rect x="496" y="154" width="3" height="9" fill="#22cc22"/>
<rect x="497" y="155" width="1" height="7" fill="#32cd32"/>
<rect x="501" y="149" width="1" height="23" fill="#ff0000"/>
<rect x="500" y="160" width="3" height="2" fill="#ff0000"/>
<rect x="505" y="120" width="1" height="41" fill="#ff0000"/>
<rect x="504" y="147" width="3" height="14" fill="#ff0000"/>
<rect x="505" y="148" width="1" height="12" fill="#ff4500"/>
<rect x="509" y="144" width="1" height="16" fill="#22cc22"/>
<rect x="508" y="146" width="3" height="10" fill="#22cc22"/>
<rect x="509" y="147" width="1" height="8" fill="#32cd32"/>
<rect x="513" y="140" width="1" height="17" fill="#ff0000"/>
<rect x="512" y="143" width="3" height="13" fill="#ff0000"/>
<rect x="513" y="144" width="1" height="11" fill="#ff4500"/>
<rect x="517" y="132" width="1" height="18" fill="#ff0000"/>
<rect x="516" y="136" width="3" height="7" fill="#ff0000"/>
<rect x="517" y="137" width="1" height="5" fill="#ff4500"/>
<rect x="521" y="129" width="1" height="15" fill="#22cc22"/>
<rect x="520" y="136" width="3" height="7" fill="#22cc22"/>
<rect x="521" y="137" width="1" height="5" fill="#32cd32"/>
<rect x="525" y="123" width="1" height="28" fill="#ff0000"/>
<rect x="524" y="134" width="3" height="9" fill="#ff0000"/>
<rect x="525" y="135" width="1" height="7" fill="#ff4500"/>
<rect x="529" y="97" width="1" height="41" fill="#ff0000"/>
<rect x="528" y="118" width="3" height="16" fill="#ff0000"/>
<rect x="529" y="119" width="1" height="14" fill="#ff4500"/>
<rect x="533" y="109" width="1" height="31" fill="#22cc22"/>
<rect x="532" y="118" width="3" height="18" fill="#22cc22"/>
<rect x="533" y="119" width="1" height="16" fill="#32cd32"/>
<rect x="537" y="120" width="1" height="18" fill="#ff0000"/>
<rect x="536" y="128" width="3" height="10" fill="#ff0000"/>
<rect x="537" y="129" width="1" height="8" fill="#ff4500"/>
<rect x="541" y="120" width="1" height="11" fill="#22cc22"/>
<rect x="540" y="128" width="3" height="1" fill="#22cc22"/>
<rect x="545" y="114" width="1" height="17" fill="#ff0000"/>
<rect x="544" y="114" width="3" height="15" fill="#ff0000"/>
<rect x="545" y="115" width="1" height="13" fill="#ff4500"/>
<rect x="549" y="104" width="1" height="24" fill="#ff0000"/>
<rect x="548" y="108" width="3" height="7" fill="#ff0000"/>
<rect x="549" y="109" width="1" height="5" fill="#ff4500"/>
<rect x="553" y="78" width="1" height="32" fill="#ff0000"/>
<rect x="552" y="91" width="3" height="18" fill="#ff0000"/>
<rect x="553" y="92" width="1" height="16" fill="#ff4500"/>
<rect x="557" y="67" width="1" height="30" fill="#ff0000"/>
<rect x="556" y="73" width="3" height="19" fill="#ff0000"/>
<rect x="557" y="74" width="1" height="17" fill="#ff4500"/>
<rect x="561" y="62" width="1" height="18" fill="#22cc22"/>
<rect x="560" y="73" width="3" height="2" fill="#22cc22"/>
<rect x="565" y="65" width="1" height="18" fill="#ff0000"/>
<rect x="564" y="68" width="3" height="6" fill="#ff0000"/>
<rect x="565" y="69" width="1" height="4" fill="#ff4500"/>
<rect x="569" y="60" width="1" height="11" fill="#ff0000"/>
<rect x="568" y="66" width="3" height="3" fill="#ff0000"/>
<rect x="569" y="67" width="1" height="1" fill="#ff4500"/>
<rect x="573" y="50" width="1" height="31" fill="#22cc22"/>
<rect x="572" y="66" width="3" height="5" fill="#22cc22"/>
<rect x="573" y="67" width="1" height="3" fill="#32cd32"/>
<rect x="577" y="63" width="1" height="29" fill="#22cc22"/>
<rect x="576" y="70" width="3" height="19" fill="#22cc22"/>
<rect x="577" y="71" width="1" height="17" fill="#32cd32"/>
<rect x="581" y="67" width="1" height="28" fill="#ff0000"/>
<rect x="580" y="73" width="3" height="15" fill="#ff0000"/>
<rect x="581" y="74" width="1" height="13" fill="#ff4500"/>
<rect x="585" y="59" width="1" height="18" fill="#ff0000"/>
<rect x="584" y="67" width="3" height="6" fill="#ff0000"/>
<rect x="585" y="68" width="1" height="4" fill="#ff4500"/>
<rect x="589" y="62" width="1" height="13" fill="#ff0000"/>
<rect x="588" y="62" width="3" height="6" fill="#ff0000"/>
<rect x="589" y="63" width="1" height="4" fill="#ff4500"/>
<rect x="593" y="58" width="1" height="10" fill="#000000"/>
<rect x="592" y="63" width="3" height="1" fill="#000000"/>
<rect x="597" y="47" width="1" height="21" fill="#ff0000"/>
<rect x="596" y="54" width="3" height="9" fill="#ff0000"/>
<rect x="597" y="55" width="1" height="7" fill="#ff4500"/>
<rect x="601" y="52" width="1" height="58" fill="#22cc22"/>
<rect x="600" y="54" width="3" height="36" fill="#22cc22"/>
<rect x="601" y="55" width="1" height="34" fill="#32cd32"/>
<rect x="605" y="77" width="1" height="33" fill="#22cc22"/>
<rect x="604" y="89" width="3" height="17" fill="#22cc22"/>
<rect x="605" y="90" width="1" height="15" fill="#32cd32"/>
<rect x="609" y="100" width="1" height="39" fill="#22cc22"/>
<rect x="608" y="107" width="3" height="24" fill="#22cc22"/>
<rect x="609" y="108" width="1" height="22" fill="#32cd32"/>
<rect x="613" y="107" width="1" height="15" fill="#ff0000"/>
<rect x="612" y="108" width="3" height="10" fill="#ff0000"/>
<rect x="613" y="109" width="1" height="8" fill="#ff4500"/>
<rect x="617" y="106" width="1" height="12" fill="#22cc22"/>
<rect x="616" y="109" width="3" height="4" fill="#22cc22"/>
<rect x="617" y="110" width="1" height="2" fill="#32cd32"/>
<rect x="621" y="98" width="1" height="34" fill="#22cc22"/>
<rect x="620" y="112" width="3" height="19" fill="#22cc22"/>
<rect x="621" y="113" width="1" height="17" fill="#32cd32"/>
<rect x="625" y="103" width="1" height="30" fill="#ff0000"/>
<rect x="624" y="114" width="3" height="16" fill="#ff0000"/>
<rect x="625" y="115" width="1" height="14" fill="#ff4500"/>
<rect x="629" y="108" width="1" height="12" fill="#22cc22"/>
<rect x="628" y="114" width="3" height="1" fill="#22cc22"/>
<rect x="633" y="109" width="1" height="7" fill="#ff0000"/>
<rect x="632" y="114" width="3" height="2" fill="#ff0000"/>
<rect x="637" y="109" width="1" height="11" fill="#ff0000"/>
<rect x="636" y="114" width="3" height="2" fill="#ff0000"/>
<rect x="641" y="114" width="1" height="19" fill="#22cc22"/>
<rect x="640" y="114" width="3" height="19" fill="#22cc22"/>
<rect x="641" y="115" width="1" height="17" fill="#32cd32"/>
<rect x="645" y="82" width="1" height="63" fill="#ff0000"/>
<rect x="644" y="93" width="3" height="40" fill="#ff0000"/>
<rect x="645" y="94" width="1" height="38" fill="#ff4500"/>
<rect x="649" y="82" width="1" height="27" fill="#22cc22"/>
<rect x="648" y="93" width="3" height="5" fill="#22cc22"/>
<rect x="649" y="94" width="1" height="3" fill="#32cd32"/>
<rect x="653" y="78" width="1" height="27" fill="#ff0000"/>
<rect x="652" y="85" width="3" height="12" fill="#ff0000"/>
<rect x="653" y="86" width="1" height="10" fill="#ff4500"/>
<rect x="657" y="75" width="1" height="14" fill="#ff0000"/>
<rect x="656" y="82" width="3" height="3" fill="#ff0000"/>
<rect x="657" y="83" width="1" height="1" fill="#ff4500"/>
<rect x="661" y="77" width="1" height="14" fill="#22cc22"/>
<rect x="660" y="82" width="3" height="7" fill="#22cc22"/>
<rect x="661" y="83" width="1" height="5" fill="#32cd32"/>
<rect x="665" y="86" width="1" height="13" fill="#22cc22"/>
<rect x="664" y="87" width="3" height="11" fill="#22cc22"/>
<rect x="665" y="88" width="1" height="9" fill="#32cd32"/>
<rect x="669" y="82" width="1" height="24" fill="#22cc22"/>
<rect x="668" y="96" width="3" height="9" fill="#22cc22"/>
<rect x="669" y="97" width="1" height="7" fill="#32cd32"/>
<rect x="673" y="73" width="1" height="38" fill="#ff0000"/>
<rect x="672" y="81" width="3" height="23" fill="#ff0000"/>
<rect x="673" y="82" width="1" height="21" fill="#ff4500"/>
<rect x="677" y="55" width="1" height="29" fill="#ff0000"/>
<rect x="676" y="74" width="3" height="8" fill="#ff0000"/>
<rect x="677" y="75" width="1" height="6" fill="#ff4500"/>
<rect x="681" y="67" width="1" height="23" fill="#ff0000"/>
<rect x="680" y="71" width="3" height="4" fill="#ff0000"/>
<rect x="681" y="72" width="1" height="2" fill="#ff4500"/>
<rect x="685" y="63" width="1" height="12" fill="#ff0000"/>
<rect x="684" y="64" width="3" height="7" fill="#ff0000"/>
<rect x="685" y="65" width="1" height="5" fill="#ff4500"/>
<rect x="689" y="63" width="1" height="21" fill="#22cc22"/>
<rect x="688" y="65" width="3" height="19" fill="#22cc22"/>
<rect x="689" y="66" width="1" height="17" fill="#32cd32"/>
<rect x="693" y="72" width="1" height="99" fill="#22cc22"/>
<rect x="692" y="82" width="3" height="87" fill="#22cc22"/>
<rect x="693" y="83" width="1" height="85" fill="#32cd32"/>
<rect x="697" y="163" width="1" height="36" fill="#22cc22"/>
<rect x="696" y="168" width="3" height="27" fill="#22cc22"/>
<rect x="697" y="169" width="1" height="25" fill="#32cd32"/>
<rect x="701" y="191" width="1" height="29" fill="#ff0000"/>
<rect x="700" y="194" width="3" height="2" fill="#ff0000"/>
<rect x="705" y="181" width="1" height="20" fill="#22cc22"/>
<rect x="704" y="194" width="3" height="7" fill="#22cc22"/>
<rect x="705" y="195" width="1" height="5" fill="#32cd32"/>
<rect x="709" y="192" width="1" height="14" fill="#ff0000"/>
<rect x="708" y="194" width="3" height="7" fill="#ff0000"/>
<rect x="709" y="195" width="1" height="5" fill="#ff4500"/>
<rect x="713" y="187" width="1" height="12" fill="#ff0000"/>
<rect x="712" y="188" width="3" height="7" fill="#ff0000"/>
<rect x="713" y="189" width="1" height="5" fill="#ff4500"/>
<rect x="717" y="168" width="1" height="38" fill="#22cc22"/>
<rect x="716" y="188" width="3" height="18" fill="#22cc22"/>
<rect x="717" y="189" width="1" height="16" fill="#32cd32"/>
<rect x="721" y="190" width="1" height="17" fill="#ff0000"/>
<rect x="720" y="193" width="3" height="14" fill="#ff0000"/>
<rect x="721" y="194" width="1" height="12" fill="#ff4500"/>
<rect x="725" y="183" width="1" height="21" fill="#22cc22"/>
<rect x="724" y="194" width="3" height="2" fill="#22cc22"/>
<rect x="729" y="196" width="1" height="15" fill="#22cc22"/>
<rect x="728" y="196" width="3" height="14" fill="#22cc22"/>
<rect x="729" y="197" width="1" height="12" fill="#32cd32"/>
<rect x="733" y="203" width="1" height="15" fill="#ff0000"/>
<rect x="732" y="206" width="3" height="1" fill="#ff0000"/>
<rect x="737" y="191" width="1" height="16" fill="#ff0000"/>
<rect x="736" y="198" width="3" height="9" fill="#ff0000"/>
<rect x="737" y="199" width="1" height="7" fill="#ff4500"/>
<rect x="741" y="182" width="1" height="39" fill="#ff0000"/>
<rect x="740" y="183" width="3" height="15" fill="#ff0000"/>
<rect x="741" y="184" width="1" height="13" fill="#ff4500"/>
<rect x="745" y="173" width="1" height="36" fill="#22cc22"/>
<rect x="744" y="183" width="3" height="19" fill="#22cc22"/>
<rect x="745" y="184" width="1" height="17" fill="#32cd32"/>
<rect x="749" y="184" width="1" height="18" fill="#ff0000"/>
<rect x="748" y="193" width="3" height="8" fill="#ff0000"/>
<rect x="749" y="194" width="1" height="6" fill="#ff4500"/>
<rect x="753" y="188" width="1" height="11" fill="#22cc22"/>
<rect x="752" y="193" width="3" height="5" fill="#22cc22"/>
<rect x="753" y="194" width="1" height="3" fill="#32cd32"/>
<rect x="757" y="195" width="1" height="10" fill="#22cc22"/>
<rect x="756" y="198" width="3" height="6" fill="#22cc22"/>
<rect x="757" y="199" width="1" height="4" fill="#32cd32"/>
<rect x="761" y="195" width="1" height="12" fill="#ff0000"/>
<rect x="760" y="197" width="3" height="6" fill="#ff0000"/>
<rect x="761" y="198" width="1" height="4" fill="#ff4500"/>
<rect x="765" y="181" width="1" height="23" fill="#ff0000"/>
<rect x="764" y="187" width="3" height="12" fill="#ff0000"/>
<rect x="765" y="188" width="1" height="10" fill="#ff4500"/>
<rect x="769" y="137" width="1" height="51" fill="#ff0000"/>
<rect x="768" y="176" width="3" height="12" fill="#ff0000"/>
<rect x="769" y="177" width="1" height="10" fill="#ff4500"/>
<rect x="773" y="165" width="1" height="21" fill="#22cc22"/>
<rect x="772" y="176" width="3" height="5" fill="#22cc22"/>
<rect x="773" y="177" width="1" height="3" fill="#32cd32"/>
<rect x="777" y="150" width="1" height="34" fill="#ff0000"/>
<rect x="776" y="151" width="3" height="30" fill="#ff0000"/>
<rect x="777" y="152" width="1" height="28" fill="#ff4500"/>
<rect x="781" y="147" width="1" height="17" fill="#22cc22"/>
<rect x="780" y="151" width="3" height="7" fill="#22cc22"/>
<rect x="781" y="152" width="1" height="5" fill="#32cd32"/>
<rect x="785" y="152" width="1" height="12" fill="#22cc22"/>
<rect x="784" y="157" width="3" height="6" fill="#22cc22"/>
<rect x="785" y="158" width="1" height="4" fill="#32cd32"/>
<rect x="789" y="139" width="1" height="33" fill="#ff0000"/>
<rect x="788" y="149" width="3" height="14" fill="#ff0000"/>
<rect x="789" y="150" width="1" height="12" fill="#ff4500"/>
<rect x="793" y="139" width="1" height="47" fill="#22cc22"/>
<rect x="792" y="149" width="3" height="32" fill="#22cc22"/>
<rect x="793" y="150" width="1" height="30" fill="#32cd32"/>
<rect x="797" y="176" width="1" height="20" fill="#22cc22"/>
<rect x="796" y="180" width="3" height="13" fill="#22cc22"/>
<rect x="797" y="181" width="1" height="11" fill="#32cd32"/>
<rect x="801" y="192" width="1" height="17" fill="#22cc22"/>
<rect x="800" y="193" width="3" height="13" fill="#22cc22"/>
<rect x="801" y="194" width="1" height="11" fill="#32cd32"/>
<rect x="805" y="197" width="1" height="15" fill="#ff0000"/>
<rect x="804" y="199" width="3" height="9" fill="#ff0000"/>
<rect x="805" y="200" width="1" height="7" fill="#ff4500"/>
<rect x="809" y="192" width="1" height="22" fill="#22cc22"/>
<rect x="808" y="198" width="3" height="16" fill="#22cc22"/>
<rect x="809" y="199" width="1" height="14" fill="#32cd32"/>
<rect x="813" y="201" width="1" height="38" fill="#22cc22"/>
<rect x="812" y="213" width="3" height="19" fill="#22cc22"/>
<rect x="813" y="214" width="1" height="17" fill="#32cd32"/>
<rect x="817" y="161" width="1" height="72" fill="#ff0000"/>
<rect x="816" y="172" width="3" height="60" fill="#ff0000"/>
<rect x="817" y="173" width="1" height="58" fill="#ff4500"/>
<rect x="821" y="153" width="1" height="25" fill="#ff0000"/>
<rect x="820" y="153" width="3" height="19" fill="#ff0000"/>
<rect x="821" y="154" width="1" height="17" fill="#ff4500"/>
<rect x="825" y="146" width="1" height="21" fill="#22cc22"/>
<rect x="824" y="153" width="3" height="13" fill="#22cc22"/>
<rect x="825" y="154" width="1" height="11" fill="#32cd32"/>
<rect x="829" y="151" width="1" height="22" fill="#ff0000"/>
<rect x="828" y="151" width="3" height="15" fill="#ff0000"/>
<rect x="829" y="152" width="1" height="13" fill="#ff4500"/>
<rect x="833" y="150" width="1" height="12" fill="#22cc22"/>
<rect x="832" y="151" width="3" height="8" fill="#22cc22"/>
<rect x="833" y="152" width="1" height="6" fill="#32cd32"/>
<rect x="837" y="133" width="1" height="29" fill="#ff0000"/>
<rect x="836" y="156" width="3" height="2" fill="#ff0000"/>
<rect x="841" y="133" width="1" height="24" fill="#ff0000"/>
<rect x="840" y="147" width="3" height="9" fill="#ff0000"/>
<rect x="841" y="148" width="1" height="7" fill="#ff4500"/>
<rect x="845" y="137" width="1" height="17" fill="#ff0000"/>
<rect x="844" y="146" width="3" height="2" fill="#ff0000"/>
<rect x="849" y="140" width="1" height="13" fill="#ff0000"/>
<rect x="848" y="142" width="3" height="4" fill="#ff0000"/>
<rect x="849" y="143" width="1" height="2" fill="#ff4500"/>
<rect x="853" y="141" width="1" height="16" fill="#ff0000"/>
<rect x="852" y="146" width="3" height="3" fill="#ff0000"/>
<rect x="853" y="147" width="1" height="1" fill="#ff4500"/>
<rect x="857" y="131" width="1" height="20" fill="#ff0000"/>
<rect x="856" y="132" width="3" height="15" fill="#ff0000"/>
<rect x="857" y="133" width="1" height="13" fill="#ff4500"/>
<rect x="861" y="111" width="1" height="28" fill="#ff0000"/>
<rect x="860" y="124" width="3" height="9" fill="#ff0000"/>
<rect x="861" y="125" width="1" height="7" fill="#ff4500"/>
<rect x="865" y="120" width="1" height="64" fill="#22cc22"/>
<rect x="864" y="124" width="3" height="39" fill="#22cc22"/>
<rect x="865" y="125" width="1" height="37" fill="#32cd32"/>
<rect x="869" y="154" width="1" height="11" fill="#22cc22"/>
<rect x="868" y="162" width="3" height="3" fill="#22cc22"/>
<rect x="869" y="163" width="1" height="1" fill="#32cd32"/>
<rect x="873" y="158" width="1" height="14" fill="#ff0000"/>
<rect x="872" y="162" width="3" height="3" fill="#ff0000"/>
<rect x="873" y="163" width="1" height="1" fill="#ff4500"/>
<rect x="877" y="151" width="1" height="25" fill="#ff0000"/>
<rect x="876" y="159" width="3" height="5" fill="#ff0000"/>
<rect x="877" y="160" width="1" height="3" fill="#ff4500"/>
<rect x="881" y="143" width="1" height="17" fill="#ff0000"/>
<rect x="880" y="147" width="3" height="13" fill="#ff0000"/>
<rect x="881" y="148" width="1" height="11" fill="#ff4500"/>
<rect x="885" y="144" width="1" height="27" fill="#22cc22"/>
<rect x="884" y="148" width="3" height="19" fill="#22cc22"/>
<rect x="885" y="149" width="1" height="17" fill="#32cd32"/>
<rect x="889" y="107" width="1" height="60" fill="#ff0000"/>
<rect x="888" y="114" width="3" height="53" fill="#ff0000"/>
<rect x="889" y="115" width="1" height="51" fill="#ff4500"/>
<rect x="893" y="98" width="1" height="27" fill="#22cc22"/>
<rect x="892" y="115" width="3" height="1" fill="#22cc22"/>
<rect x="897" y="110" width="1" height="17" fill="#22cc22"/>
<rect x="896" y="115" width="3" height="9" fill="#22cc22"/>
<rect x="897" y="116" width="1" height="7" fill="#32cd32"/>
<rect x="901" y="116" width="1" height="12" fill="#ff0000"/>
<rect x="900" y="120" width="3" height="3" fill="#ff0000"/>
<rect x="901" y="121" width="1" height="1" fill="#ff4500"/>
<rect x="905" y="114" width="1" height="12" fill="#ff0000"/>
<rect x="904" y="119" width="3" height="2" fill="#ff0000"/>
<rect x="909" y="100" width="1" height="30" fill="#ff0000"/>
<rect x="908" y="114" width="3" height="6" fill="#ff0000"/>
<rect x="909" y="115" width="1" height="4" fill="#ff4500"/>
<rect x="913" y="111" width="1" height="32" fill="#22cc22"/>
<rect x="912" y="114" width="3" height="29" fill="#22cc22"/>
<rect x="913" y="115" width="1" height="27" fill="#32cd32"/>
<rect x="917" y="135" width="1" height="31" fill="#22cc22"/>
<rect x="916" y="142" width="3" height="22" fill="#22cc22"/>
<rect x="917" y="143" width="1" height="20" fill="#32cd32"/>
<rect x="921" y="153" width="1" height="23" fill="#22cc22"/>
<rect x="920" y="163" width="3" height="8" fill="#22cc22"/>
<rect x="921" y="164" width="1" height="6" fill="#32cd32"/>
<rect x="925" y="165" width="1" height="6" fill="#ff0000"/>
<rect x="924" y="167" width="3" height="4" fill="#ff0000"/>
<rect x="925" y="168" width="1" height="2" fill="#ff4500"/>
</g>
<g shape-rendering="crispEdges">
<rect x="4" y="96" width="6" height="6" fill="#ff0000"/>
<rect x="6" y="98" width="2" height="2" fill="#ffffff"/>
<rect x="4" y="169" width="6" height="6" fill="#00ff00"/>
<rect x="6" y="171" width="2" height="2" fill="#ffffff"/>
<rect x="4" y="243" width="6" height="6" fill="#0000ff"/>
<rect x="6" y="245" width="2" height="2" fill="#ffffff"/>
</g>
<g clip-path="url(#cd)" shape-rendering="crispEdges">
<rect x="4" y="540" width="3" height="4" fill="#c0c0c0"/>
<rect x="8" y="539" width="3" height="5" fill="#c0c0c0"/>
<rect x="12" y="540" width="3" height="4" fill="#c0c0c0"/>
<rect x="16" y="539" width="3" height="5" fill="#c0c0c0"/>
<rect x="20" y="539" width="3" height="5" fill="#c0c0c0"/>
<rect x="24" y="539" width="3" height="5" fill="#c0c0c0"/>
<rect x="28" y="539" width="3" height="5" fill="#c0c0c0"/>
<rect x="32" y="540" width="3" height="4" fill="#c0c0c0"/>
<rect x="36" y="540" width="3" height="4" fill="#c0c0c0"/>
<rect x="40" y="540" width="3" height="4" fill="#c0c0c0"/>
<rect x="44" y="541" width="3" height="3" fill="#c0c0c0"/>
<rect x="48" y="542" width="3" height="2" fill="#c0c0c0"/>
<rect x="52" y="544" width="3" height="0" fill="#c0c0c0"/>
<rect x="56" y="544" width="3" height="1" fill="#c0c0c0"/>
<rect x="60" y="544" width="3" height="2" fill="#c0c0c0"/>
<rect x="64" y="544" width="3" height="2" fill="#c0c0c0"/>
<rect x="68" y="543" width="3" height="1" fill="#c0c0c0"/>
<rect x="72" y="543" width="3" height="1" fill="#c0c0c0"/>
<rect x="76" y="543" width="3" height="1" fill="#c0c0c0"/>
<rect x="80" y="544" width="3" height="0" fill="#c0c0c0"/>
<rect x="84" y="544" width="3" height="0" fill="#c0c0c0"/>
<rect x="88" y="543" width="3" height="1" fill="#c0c0c0"/>
<rect x="92" y="542" width="3" height="2" fill="#c0c0c0"/>
<rect x="96" y="539" width="3" height="5" fill="#c0c0c0"/>
<rect x="100" y="535" width="3" height="9" fill="#c0c0c0"/>
<rect x="104" y="534" width="3" height="10" fill="#c0c0c0"/>
<rect x="108" y="532" width="3" height="12" fill="#c0c0c0"/>
<rect x="112" y="530" width="3" height="14" fill="#c0c0c0"/>
<rect x="116" y="529" width="3" height="15" fill="#c0c0c0"/>
<rect x="120" y="533" width="3" height="11" fill="#c0c0c0"/>
<rect x="124" y="536" width="3" height="8" fill="#c0c0c0"/>
<rect x="128" y="538" width="3" height="6" fill="#c0c0c0"/>
<rect x="132" y="539" width="3" height="5" fill="#c0c0c0"/>
<rect x="136" y="539" width="3" height="5" fill="#c0c0c0"/>
<rect x="140" y="541" width="3" height="3" fill="#c0c0c0"/>
<rect x="144" y="543" width="3" height="1" fill="#c0c0c0"/>
<rect x="148" y="544" width="3" height="1" fill="#c0c0c0"/>
<rect x="152" y="544" width="3" height="3" fill="#c0c0c0"/>
<rect x="156" y="544" width="3" height="4" fill="#c0c0c0"/>
<rect x="160" y="544" width="3" height="4" fill="#c0c0c0"/>
<rect x="164" y="544" width="3" height="5" fill="#c0c0c0"/>
<rect x="168" y="544" width="3" height="6" fill="#c0c0c0"/>
<rect x="172" y="544" width="3" height="7" fill="#c0c0c0"/>
<rect x="176" y="544" width="3" height="7" fill="#c0c0c0"/>
<rect x="180" y="544" width="3" height="8" fill="#c0c0c0"/>
<rect x="184" y="544" width="3" height="8" fill="#c0c0c0"/>
<rect x="188" y="544" width="3" height="8" fill="#c0c0c0"/>
<rect x="192" y="544" width="3" height="11" fill="#c0c0c0"/>
<rect x="196" y="544" width="3" height="10" fill="#c0c0c0"/>
<rect x="200" y="544" width="3" height="10" fill="#c0c0c0"/>
<rect x="204" y="544" width="3" height="9" fill="#c0c0c0"/>
<rect x="208" y="544" width="3" height="9" fill="#c0c0c0"/>
<rect x="212" y="544" width="3" height="8" fill="#c0c0c0"/>
<rect x="216" y="544" width="3" height="8" fill="#c0c0c0"/>
<rect x="220" y="544" width="3" height="8" fill="#c0c0c0"/>
<rect x="224" y="544" width="3" height="8" fill="#c0c0c0"/>
<rect x="228" y="544" width="3" height="9" fill="#c0c0c0"/>
<rect x="232" y="544" width="3" height="9" fill="#c0c0c0"/>
<rect x="236" y="544" width="3" height="8" fill="#c0c0c0"/>
<rect x="240" y="544" width="3" height="5" fill="#c0c0c0"/>
<rect x="244" y="544" width="3" height="2" fill="#c0c0c0"/>
<rect x="248" y="544" width="3" height="0" fill="#c0c0c0"/>
<rect x="252" y="543" width="3" height="1" fill="#c0c0c0"/>
<rect x="256" y="541" width="3" height="3" fill="#c0c0c0"/>
<rect x="260" y="541" width="3" height="3" fill="#c0c0c0"/>
<rect x="264" y="540" width="3" height="4" fill="#c0c0c0"/>
<rect x="268" y="539" width="3" height="5" fill="#c0c0c0"/>
<rect x="272" y="539" width="3" height="5" fill="#c0c0c0"/>
<rect x="276" y="538" width="3" height="6" fill="#c0c0c0"/>
<rect x="280" y="538" width="3" height="6" fill="#c0c0c0"/>
<rect x="284" y="538" width="3" height="6" fill="#c0c0c0"/>
<rect x="288" y="538" width="3" height="6" fill="#c0c0c0"/>
<rect x="292" y="539" width="3" height="5" fill="#c0c0c0"/>
<rect x="296" y="539" width="3" height="5" fill="#c0c0c0"/>
<rect x="300" y="539" width="3" height="5" fill="#c0c0c0"/>
<rect x="304" y="540" width="3" height="4" fill="#c0c0c0"/>
<rect x="308" y="540" width="3" height="4" fill="#c0c0c0"/>
<rect x="312" y="540" width="3" height="4" fill="#c0c0c0"/>
<rect x="316" y="540" width="3" height="4" fill="#c0c0c0"/>
<rect x="320" y="533" width="3" height="11" fill="#c0c0c0"/>
<rect x="324" y="529" width="3" height="15" fill="#c0c0c0"/>
<rect x="328" y="525" width="3" height="19" fill="#c0c0c0"/>
<rect x="332" y="518" width="3" height="26" fill="#c0c0c0"/>
<rect x="336" y="511" width="3" height="33" fill="#c0c0c0"/>
<rect x="340" y="506" width="3" height="38" fill="#c0c0c0"/>
<rect x="344" y="501" width="3" height="43" fill="#c0c0c0"/>
<rect x="348" y="498" width="3" height="46" fill="#c0c0c0"/>
<rect x="352" y="497" width="3" height="47" fill="#c0c0c0"/>
<rect x="356" y="495" width="3" height="49" fill="#c0c0c0"/>
<rect x="360" y="492" width="3" height="52" fill="#c0c0c0"/>
<rect x="364" y="491" width="3" height="53" fill="#c0c0c0"/>
<rect x="368" y="490" width="3" height="54" fill="#c0c0c0"/>
<rect x="372" y="490" width="3" height="54" fill="#c0c0c0"/>
<rect x="376" y="491" width="3" height="53" fill="#c0c0c0"/>
<rect x="380" y="492" width="3" height="52" fill="#c0c0c0"/>
<rect x="384" y="496" width="3" height="48" fill="#c0c0c0"/>
<rect x="388" y="499" width="3" height="45" fill="#c0c0c0"/>
<rect x="392" y="503" width="3" height="41" fill="#c0c0c0"/>
<rect x="396" y="506" width="3" height="38" fill="#c0c0c0"/>
<rect x="400" y="507" width="3" height="37" fill="#c0c0c0"/>
<rect x="404" y="508" width="3" height="36" fill="#c0c0c0"/>
<rect x="408" y="510" width="3" height="34" fill="#c0c0c0"/>
<rect x="412" y="512" width="3" height="32" fill="#c0c0c0"/>
<rect x="416" y="515" width="3" height="29" fill="#c0c0c0"/>
<rect x="420" y="517" width="3" height="27" fill="#c0c0c0"/>
<rect x="424" y="519" width="3" height="25" fill="#c0c0c0"/>
<rect x="428" y="522" width="3" height="22" fill="#c0c0c0"/>
<rect x="432" y="526" width="3" height="18" fill="#c0c0c0"/>
<rect x="436" y="528" width="3" height="16" fill="#c0c0c0"/>
<rect x="440" y="529" width="3" height="15" fill="#c0c0c0"/>
<rect x="444" y="530" width="3" height="14" fill="#c0c0c0"/>
<rect x="448" y="530" width="3" height="14" fill="#c0c0c0"/>
<rect x="452" y="531" width="3" height="13" fill="#c0c0c0"/>
<rect x="456" y="533" width="3" height="11" fill="#c0c0c0"/>
<rect x="460" y="533" width="3" height="11" fill="#c0c0c0"/>
<rect x="464" y="534" width="3" height="10" fill="#c0c0c0"/>
<rect x="468" y="536" width="3" height="8" fill="#c0c0c0"/>
<rect x="472" y="537" width="3" height="7" fill="#c0c0c0"/>
<rect x="476" y="538" width="3" height="6" fill="#c0c0c0"/>
<rect x="480" y="541" width="3" height="3" fill="#c0c0c0"/>
<rect x="484" y="541" width="3" height="3" fill="#c0c0c0"/>
<rect x="488" y="541" width="3" height="3" fill="#c0c0c0"/>
<rect x="492" y="541" width="3" height="3" fill="#c0c0c0"/>
<rect x="496" y="541" width="3" height="3" fill="#c0c0c0"/>
<rect x="500" y="541" width="3" height="3" fill="#c0c0c0"/>
<rect x="504" y="540" width="3" height="4" fill="#c0c0c0"/>
<rect x="508" y="540" width="3" height="4" fill="#c0c0c0"/>
<rect x="512" y="539" width="3" height="5" fill="#c0c0c0"/>
<rect x="516" y="538" width="3" height="6" fill="#c0c0c0"/>
<rect x="520" y="538" width="3" height="6" fill="#c0c0c0"/>
<rect x="524" y="537" width="3" height="7" fill="#c0c0c0"/>
<rect x="528" y="535" width="3" height="9" fill="#c0c0c0"/>
<rect x="532" y="536" width="3" height="8" fill="#c0c0c0"/>
<rect x="536" y="535" width="3" height="9" fill="#c0c0c0"/>
<rect x="540" y="535" width="3" height="9" fill="#c0c0c0"/>
<rect x="544" y="534" width="3" height="10" fill="#c0c0c0"/>
<rect x="548" y="533" width="3" height="11" fill="#c0c0c0"/>
<rect x="552" y="532" width="3" height="12" fill="#c0c0c0"/>
<rect x="556" y="530" width="3" height="14" fill="#c0c0c0"/>
<rect x="560" y="528" width="3" height="16" fill="#c0c0c0"/>
<rect x="564" y="527" width="3" height="17" fill="#c0c0c0"/>
<rect x="568" y="526" width="3" height="18" fill="#c0c0c0"/>
<rect x="572" y="525" width="3" height="19" fill="#c0c0c0"/>
<rect x="576" y="527" width="3" height="17" fill="#c0c0c0"/>
<rect x="580" y="527" width="3" height="17" fill="#c0c0c0"/>
<rect x="584" y="526" width="3" height="18" fill="#c0c0c0"/>
<rect x="588" y="526" width="3" height="18" fill="#c0c0c0"/>
<rect x="592" y="526" width="3" height="18" fill="#c0c0c0"/>
<rect x="596" y="526" width="3" height="18" fill="#c0c0c0"/>
<rect x="600" y="528" width="3" height="16" fill="#c0c0c0"/>
<rect x="604" y="531" width="3" height="13" fill="#c0c0c0"/>
<rect x="608" y="535" width="3" height="9" fill="#c0c0c0"/>
<rect x="612" y="537" width="3" height="7" fill="#c0c0c0"/>
<rect x="616" y="538" width="3" height="6" fill="#c0c0c0"/>
<rect x="620" y="541" width="3" height="3" fill="#c0c0c0"/>
<rect x="624" y="542" width="3" height="2" fill="#c0c0c0"/>
<rect x="628" y="543" width="3" height="1" fill="#c0c0c0"/>
<rect x="632" y="543" width="3" height="1" fill="#c0c0c0"/>
<rect x="636" y="544" width="3" height="0" fill="#c0c0c0"/>
<rect x="640" y="544" width="3" height="1" fill="#c0c0c0"/>
<rect x="644" y="544" width="3" height="0" fill="#c0c0c0"/>
<rect x="648" y="543" width="3" height="1" fill="#c0c0c0"/>
<rect x="652" y="542" width="3" height="2" fill="#c0c0c0"/>
<rect x="656" y="541" width="3" height="3" fill="#c0c0c0"/>
<rect x="660" y="540" width="3" height="4" fill="#c0c0c0"/>
<rect x="664" y="541" width="3" height="3" fill="#c0c0c0"/>
<rect x="668" y="541" width="3" height="3" fill="#c0c0c0"/>
<rect x="672" y="540" width="3" height="4" fill="#c0c0c0"/>
<rect x="676" y="539" width="3" height="5" fill="#c0c0c0"/>
<rect x="680" y="538" width="3" height="6" fill="#c0c0c0"/>
<rect x="684" y="537" width="3" height="7" fill="#c0c0c0"/>
<rect x="688" y="537" width="3" height="7" fill="#c0c0c0"/>
<rect x="692" y="543" width="3" height="1" fill="#c0c0c0"/>
<rect x="696" y="544" width="3" height="5" fill="#c0c0c0"/>
<rect x="700" y="544" width="3" height="9" fill="#c0c0c0"/>
<rect x="704" y="544" width="3" height="13" fill="#c0c0c0"/>
<rect x="708" y="544" width="3" height="15" fill="#c0c0c0"/>
<rect x="712" y="544" width="3" height="16" fill="#c0c0c0"/>
<rect x="716" y="544" width="3" height="18" fill="#c0c0c0"/>
<rect x="720" y="544" width="3" height="19" fill="#c0c0c0"/>
<rect x="724" y="544" width="3" height="19" fill="#c0c0c0"/>
<rect x="728" y="544" width="3" height="20" fill="#c0c0c0"/>
<rect x="732" y="544" width="3" height="20" fill="#c0c0c0"/>
<rect x="736" y="544" width="3" height="20" fill="#c0c0c0"/>
<rect x="740" y="544" width="3" height="18" fill="#c0c0c0"/>
<rect x="744" y="544" width="3" height="18" fill="#c0c0c0"/>
<rect x="748" y="544" width="3" height="17" fill="#c0c0c0"/>
<rect x="752" y="544" width="3" height="16" fill="#c0c0c0"/>
<rect x="756" y="544" width="3" height="16" fill="#c0c0c0"/>
<rect x="760" y="544" width="3" height="15" fill="#c0c0c0"/>
<rect x="764" y="544" width="3" height="14" fill="#c0c0c0"/>
<rect x="768" y="544" width="3" height="12" fill="#c0c0c0"/>
<rect x="772" y="544" width="3" height="10" fill="#c0c0c0"/>
<rect x="776" y="544" width="3" height="7" fill="#c0c0c0"/>
<rect x="780" y="544" width="3" height="5" fill="#c0c0c0"/>
<rect x="784" y="544" width="3" height="4" fill="#c0c0c0"/>
<rect x="788" y="544" width="3" height="2" fill="#c0c0c0"/>
<rect x="792" y="544" width="3" height="2" fill="#c0c0c0"/>
<rect x="796" y="544" width="3" height="3" fill="#c0c0c0"/>
<rect x="800" y="544" width="3" height="5" fill="#c0c0c0"/>
<rect x="804" y="544" width="3" height="6" fill="#c0c0c0"/>
<rect x="808" y="544" width="3" height="7" fill="#c0c0c0"/>
<rect x="812" y="544" width="3" height="9" fill="#c0c0c0"/>
<rect x="816" y="544" width="3" height="7" fill="#c0c0c0"/>
<rect x="820" y="544" width="3" height="4" fill="#c0c0c0"/>
<rect x="824" y="544" width="3" height="3" fill="#c0c0c0"/>
<rect x="828" y="544" width="3" height="1" fill="#c0c0c0"/>
<rect x="832" y="543" width="3" height="1" fill="#c0c0c0"/>
<rect x="836" y="542" width="3" height="2" fill="#c0c0c0"/>
<rect x="840" y="541" width="3" height="3" fill="#c0c0c0"/>
<rect x="844" y="540" width="3" height="4" fill="#c0c0c0"/>
<rect x="848" y="539" width="3" height="5" fill="#c0c0c0"/>
<rect x="852" y="538" width="3" height="6" fill="#c0c0c0"/>
<rect x="856" y="537" width="3" height="7" fill="#c0c0c0"/>
<rect x="860" y="536" width="3" height="8" fill="#c0c0c0"/>
<rect x="864" y="537" width="3" height="7" fill="#c0c0c0"/>
<rect x="868" y="538" width="3" height="6" fill="#c0c0c0"/>
<rect x="872" y="539" width="3" height="5" fill="#c0c0c0"/>
<rect x="876" y="540" width="3" height="4" fill="#c0c0c0"/>
<rect x="880" y="539" width="3" height="5" fill="#c0c0c0"/>
<rect x="884" y="541" width="3" height="3" fill="#c0c0c0"/>
<rect x="888" y="538" width="3" height="6" fill="#c0c0c0"/>
<rect x="892" y="537" width="3" height="7" fill="#c0c0c0"/>
<rect x="896" y="536" width="3" height="8" fill="#c0c0c0"/>
<rect x="900" y="535" width="3" height="9" fill="#c0c0c0"/>
<rect x="904" y="535" width="3" height="9" fill="#c0c0c0"/>
<rect x="908" y="534" width="3" height="10" fill="#c0c0c0"/>
<rect x="912" y="535" width="3" height="9" fill="#c0c0c0"/>
<rect x="916" y="538" width="3" height="6" fill="#c0c0c0"/>
<rect x="920" y="540" width="3" height="4" fill="#c0c0c0"/>
<rect x="924" y="542" width="3" height="2" fill="#c0c0c0"/>
<polyline points="5.50,543.52 9.50,542.69 13.50,542.12 17.50,541.65 21.50,541.12 25.50,540.54 29.50,540.17 33.50,539.91 37.50,539.94 41.50,540.03 45.50,540.17 49.50,540.41 53.50,540.98 57.50,541.71 61.50,542.48 65.50,543.17 69.50,543.55 73.50,543.83 77.50,544.15 81.50,544.49 85.50,544.71 89.50,544.60 93.50,544.28 97.50,543.55 101.50,542.40 105.50,541.32 109.50,540.10 113.50,538.64 117.50,537.05 121.50,535.88 125.50,535.03 129.50,534.51 133.50,534.50 137.50,534.96 141.50,535.73 145.50,536.91 149.50,538.55 153.50,540.45 157.50,542.04 161.50,543.39 165.50,544.63 169.50,545.86 173.50,547.13 177.50,548.30 181.50,549.30 185.50,550.03 189.50,550.67 193.50,551.47 197.50,552.20 201.50,552.77 205.50,553.12 209.50,553.34 213.50,553.45 217.50,553.55 221.50,553.65 225.50,553.66 229.50,553.48 233.50,553.37 237.50,553.14 241.50,552.70 245.50,551.98 249.50,551.13 253.50,550.05 257.50,548.83 261.50,547.59 265.50,546.15 269.50,544.59 273.50,543.13 277.50,541.84 281.50,540.87 285.50,540.18 289.50,539.67 293.50,539.38 297.50,539.18 301.50,539.10 305.50,539.17 309.50,539.32 313.50,539.52 317.50,539.76 321.50,539.23 325.50,538.17 329.50,536.62 333.50,534.20 337.50,531.07 341.50,527.25 345.50,522.93 349.50,518.37 353.50,513.56 357.50,509.32 361.50,505.26 365.50,501.46 369.50,498.40 373.50,496.00 377.50,494.34 381.50,493.36 385.50,493.09 389.50,493.40 393.50,494.31 397.50,495.81 401.50,497.60 405.50,499.57 409.50,501.81 413.50,504.18 417.50,506.72 421.50,509.04 425.50,511.21 429.50,513.24 433.50,515.48 437.50,517.86 441.50,520.22 445.50,522.41 449.50,524.44 453.50,526.23 457.50,528.00 461.50,529.59 465.50,531.00 469.50,532.13 473.50,533.09 477.50,534.14 481.50,535.45 485.50,536.70 489.50,537.79 493.50,538.65 497.50,539.47 501.50,540.17 505.50,540.58 509.50,540.88 513.50,540.92 517.50,540.52 521.50,540.09 525.50,539.62 529.50,539.05 533.50,538.49 537.50,537.91 541.50,537.40 545.50,536.81 549.50,536.20 553.50,535.52 557.50,534.62 561.50,533.65 565.50,532.67 569.50,531.58 573.50,530.50 577.50,529.54 581.50,528.69 585.50,527.93 589.50,527.33 593.50,526.99 597.50,526.78 601.50,526.95 605.50,527.55 609.50,528.59 613.50,529.72 617.50,531.02 621.50,532.61 625.50,534.32 629.50,536.12 633.50,538.01 637.50,539.72 641.50,541.28 645.50,542.28 649.50,543.03 653.50,543.44 657.50,543.46 661.50,543.31 665.50,543.09 669.50,542.87 673.50,542.49 677.50,541.84 681.50,541.20 685.50,540.52 689.50,540.01 693.50,540.22 697.50,541.13 701.50,542.50 705.50,544.22 709.50,546.30 713.50,548.65 717.50,551.33 721.50,554.19 725.50,557.05 729.50,559.41 733.50,561.16 737.50,562.35 741.50,562.97 745.50,563.28 749.50,563.35 753.50,563.13 757.50,562.81 761.50,562.35 765.50,561.63 769.50,560.68 773.50,559.63 777.50,558.42 781.50,557.02 785.50,555.58 789.50,554.00 793.50,552.51 797.50,551.21 801.50,550.23 805.50,549.55 809.50,549.17 813.50,549.34 817.50,549.51 821.50,549.51 825.50,549.57 829.50,549.35 833.50,548.90 837.50,548.17 841.50,547.21 845.50,545.98 849.50,544.41 853.50,543.00 857.50,541.77 861.50,540.56 865.50,539.72 869.50,539.16 873.50,538.82 877.50,538.69 881.50,538.65 885.50,538.85 889.50,538.86 893.50,538.82 897.50,538.85 901.50,538.65 905.50,538.26 909.50,537.70 913.50,537.23 917.50,537.05 921.50,537.02 925.50,537.42" fill="none" stroke="#ff0000" stroke-width="1"/>
</g>
<g clip-path="url(#cr)" shape-rendering="crispEdges">
<line x1="6" y1="598.5" x2="1167" y2="598.5" stroke="#a8a8a8" stroke-dasharray="3,3"/>
<line x1="6" y1="632.5" x2="1167" y2="632.5" stroke="#a8a8a8" stroke-dasharray="3,3"/>
<polyline points="5.50,611.35 9.50,611.64 13.50,614.55 17.50,610.79 21.50,610.31 25.50,612.54 29.50,616.00 33.50,614.42 37.50,616.10 41.50,613.35 45.50,614.10 49.50,619.33 53.50,626.31 57.50,620.20 61.50,619.00 65.50,617.69 69.50,607.66 73.50,614.59 77.50,616.74 81.50,617.28 85.50,615.84 89.50,614.29 93.50,611.21 97.50,603.21 101.50,599.74 105.50,605.69 109.50,604.67 113.50,602.59 117.50,605.43 121.50,620.18 125.50,618.38 129.50,618.12 133.50,617.35 137.50,614.86 141.50,617.36 145.50,621.19 149.50,623.38 153.50,622.30 157.50,621.27 161.50,619.34 165.50,622.50 169.50,624.15 173.50,623.58 177.50,621.83 181.50,623.38 185.50,621.63 189.50,625.23 193.50,631.32 197.50,620.82 201.50,620.57 205.50,619.98 209.50,620.56 213.50,619.08 217.50,623.38 221.50,621.94 225.50,622.57 229.50,625.64 233.50,625.38 237.50,615.23 241.50,611.28 245.50,607.15 249.50,609.58 253.50,609.35 257.50,608.66 261.50,613.25 265.50,609.64 269.50,609.30 273.50,608.68 277.50,607.07 281.50,610.69 285.50,613.40 289.50,611.85 293.50,613.86 297.50,615.30 301.50,612.30 305.50,614.80 309.50,612.51 313.50,609.49 317.50,613.96 321.50,593.26 325.50,594.45 329.50,593.94 333.50,587.94 337.50,587.17 341.50,585.99 345.50,585.74 349.50,587.48 353.50,587.19 357.50,586.62 361.50,584.28 365.50,586.82 369.50,586.55 373.50,586.26 377.50,588.29 381.50,591.48 385.50,600.89 389.50,601.01 393.50,604.24 397.50,601.17 401.50,598.60 405.50,597.93 409.50,603.00 413.50,602.60 417.50,609.27 421.50,605.78 425.50,607.90 429.50,610.65 433.50,618.22 437.50,614.37 441.50,610.25 445.50,609.86 449.50,609.47 453.50,611.97 457.50,613.91 461.50,610.67 465.50,613.31 469.50,616.47 473.50,614.63 477.50,617.56 481.50,623.70 485.50,614.52 489.50,613.73 493.50,612.15 497.50,614.07 501.50,613.45 505.50,610.54 509.50,612.87 513.50,610.06 517.50,608.60 521.50,610.67 525.50,608.64 529.50,605.29 533.50,610.87 537.50,609.02 541.50,609.23 545.50,606.08 549.50,604.76 553.50,601.51 557.50,598.50 561.50,599.29 565.50,598.10 569.50,597.80 573.50,599.91 577.50,606.85 581.50,603.42 585.50,602.24 589.50,601.22 593.50,601.57 597.50,599.65 601.50,612.97 605.50,617.51 609.50,623.14 613.50,617.06 617.50,618.22 621.50,622.12 625.50,617.84 629.50,618.09 633.50,617.71 637.50,617.71 641.50,622.46 645.50,612.07 649.50,613.36 653.50,610.48 657.50,609.85 661.50,611.86 665.50,614.45 669.50,616.44 673.50,610.37 677.50,608.77 681.50,608.02 685.50,606.40 689.50,612.85 693.50,629.37 697.50,632.56 701.50,632.19 705.50,633.00 709.50,631.09 713.50,629.34 717.50,631.97 721.50,628.09 725.50,628.64 729.50,630.74 733.50,629.39 737.50,626.94 741.50,622.47 745.50,626.11 749.50,623.61 753.50,624.65 757.50,625.80 761.50,623.57 765.50,620.43 769.50,617.16 773.50,618.43 777.50,610.57 781.50,612.58 785.50,614.15 789.50,610.62 793.50,619.03 797.50,621.52 801.50,624.12 805.50,622.07 809.50,625.20 813.50,628.44 817.50,614.14 821.50,610.82 825.50,613.56 829.50,610.86 833.50,612.53 837.50,612.00 841.50,610.27 845.50,610.01 849.50,609.27 853.50,610.40 857.50,607.31 861.50,605.74 865.50,616.31 869.50,616.80 873.50,616.07 877.50,615.33 881.50,612.14 885.50,617.58 889.50,606.52 893.50,606.96 897.50,609.07 901.50,608.43 905.50,608.08 909.50,607.10 913.50,615.24 917.50,620.14 921.50,621.69 925.50,620.50" fill="none" stroke="#1e90ff" stroke-width="1"/>
</g>
<g shape-rendering="crispEdges">
<rect x="1168" y="51" width="2" height="1" fill="#000"/>
<rect x="1168" y="84" width="2" height="1" fill="#000"/>
<rect x="1168" y="117" width="2" height="1" fill="#000"/>
<rect x="1168" y="150" width="2" height="1" fill="#000"/>
<rect x="1168" y="183" width="2" height="1" fill="#000"/>
<rect x="1168" y="216" width="2" height="1" fill="#000"/>
<rect x="1168" y="249" width="2" height="1" fill="#000"/>
<rect x="1168" y="282" width="2" height="1" fill="#000"/>
<rect x="1168" y="315" width="2" height="1" fill="#000"/>
<rect x="1168" y="348" width="2" height="1" fill="#000"/>
<rect x="1168" y="381" width="2" height="1" fill="#000"/>
<rect x="1168" y="414" width="2" height="1" fill="#000"/>
<rect x="1168" y="447" width="2" height="1" fill="#000"/>
<rect x="1168" y="480" width="2" height="1" fill="#000"/>
</g>
<text x="1173" y="55.0" font-size="9.4" fill="#000" class="b" textLength="32" lengthAdjust="spacingAndGlyphs">0.92700</text>
<text x="1173" y="87.90625000000043" font-size="9.4" fill="#000" class="b" textLength="32" lengthAdjust="spacingAndGlyphs">0.92430</text>
<text x="1173" y="120.81250000000085" font-size="9.4" fill="#000" class="b" textLength="32" lengthAdjust="spacingAndGlyphs">0.92160</text>
<text x="1173" y="153.71874999999994" font-size="9.4" fill="#000" class="b" textLength="32" lengthAdjust="spacingAndGlyphs">0.91890</text>
<text x="1173" y="187.2343750000003" font-size="9.4" fill="#000" class="b" textLength="32" lengthAdjust="spacingAndGlyphs">0.91615</text>
<text x="1173" y="220.14062500000077" font-size="9.4" fill="#000" class="b" textLength="32" lengthAdjust="spacingAndGlyphs">0.91345</text>
<text x="1173" y="253.0468750000012" font-size="9.4" fill="#000" class="b" textLength="32" lengthAdjust="spacingAndGlyphs">0.91075</text>
<text x="1173" y="285.9531250000003" font-size="9.4" fill="#000" class="b" textLength="32" lengthAdjust="spacingAndGlyphs">0.90805</text>
<text x="1173" y="318.8593750000007" font-size="9.4" fill="#000" class="b" textLength="32" lengthAdjust="spacingAndGlyphs">0.90535</text>
<text x="1173" y="351.76562500000114" font-size="9.4" fill="#000" class="b" textLength="32" lengthAdjust="spacingAndGlyphs">0.90265</text>
<text x="1173" y="385.28125000000017" font-size="9.4" fill="#000" class="b" textLength="32" lengthAdjust="spacingAndGlyphs">0.89990</text>
<text x="1173" y="418.18750000000057" font-size="9.4" fill="#000" class="b" textLength="32" lengthAdjust="spacingAndGlyphs">0.89720</text>
<text x="1173" y="451.093750000001" font-size="9.4" fill="#000" class="b" textLength="32" lengthAdjust="spacingAndGlyphs">0.89450</text>
<text x="1173" y="484.0000000000001" font-size="9.4" fill="#000" class="b" textLength="32" lengthAdjust="spacingAndGlyphs">0.89180</text>
<rect x="1169" y="162" width="38" height="11" fill="#000"/>
<text x="1173" y="171" font-size="9.4" fill="#fff" class="w" textLength="32" lengthAdjust="spacingAndGlyphs">0.91747</text>
<rect x="1169" y="93" width="38" height="11" fill="#ff0000"/>
<text x="1173" y="102" font-size="9.4" fill="#fff" class="w" textLength="32" lengthAdjust="spacingAndGlyphs">0.92306</text>
<rect x="1169" y="166" width="38" height="11" fill="#00ff00"/>
<text x="1173" y="175" font-size="9.4" fill="#fff" class="w" textLength="32" lengthAdjust="spacingAndGlyphs">0.91708</text>
<rect x="1169" y="240" width="38" height="11" fill="#0000ff"/>
<text x="1173" y="249" font-size="9.4" fill="#fff" class="w" textLength="32" lengthAdjust="spacingAndGlyphs">0.91101</text>
<rect x="1169" y="325" width="38" height="11" fill="#0000ff"/>
<text x="1173" y="334" font-size="9.4" fill="#fff" class="w" textLength="32" lengthAdjust="spacingAndGlyphs">0.90405</text>
<g shape-rendering="crispEdges">
<rect x="1168" y="487" width="2" height="1" fill="#000"/>
<rect x="1168" y="544" width="2" height="1" fill="#000"/>
<rect x="1168" y="568" width="2" height="1" fill="#000"/>
<rect x="1168" y="573" width="2" height="1" fill="#000"/>
<rect x="1168" y="598" width="2" height="1" fill="#000"/>
<rect x="1168" y="632" width="2" height="1" fill="#000"/>
<rect x="1168" y="657" width="1" height="1" fill="#000"/>
</g>
<text x="1171.5" y="496" font-size="9.4" fill="#000" class="b" textLength="36" lengthAdjust="spacingAndGlyphs">0.006413</text>
<text x="1171.5" y="548" font-size="9.4" fill="#000" class="b" textLength="16" lengthAdjust="spacingAndGlyphs">0.00</text>
<text x="1171.5" y="566" font-size="9.4" fill="#000" class="b" textLength="35" lengthAdjust="spacingAndGlyphs">-0.00272</text>
<text x="1171.3" y="582" font-size="9.4" fill="#000" class="b" textLength="14" lengthAdjust="spacingAndGlyphs">100</text>
<text x="1171.3" y="602" font-size="9.4" fill="#000" class="b" textLength="9" lengthAdjust="spacingAndGlyphs">70</text>
<text x="1171.3" y="636" font-size="9.4" fill="#000" class="b" textLength="9" lengthAdjust="spacingAndGlyphs">30</text>
<text x="1171.3" y="655" font-size="9.4" fill="#000" class="b" textLength="4.5" lengthAdjust="spacingAndGlyphs">0</text>
<text x="9.6" y="497.8" font-size="9.9" fill="#000" class="b" textLength="147" lengthAdjust="spacingAndGlyphs">MACD(12,26,9) 0.000190 0.000745</text>
<text x="9.3" y="584" font-size="9.9" fill="#000" class="b" textLength="68" lengthAdjust="spacingAndGlyphs">RSI(14) 44.1430</text>
<g shape-rendering="crispEdges">
<rect x="5" y="659" width="1" height="3" fill="#000"/>
<rect x="69" y="659" width="1" height="3" fill="#000"/>
<rect x="133" y="659" width="1" height="3" fill="#000"/>
<rect x="197" y="659" width="1" height="3" fill="#000"/>
<rect x="261" y="659" width="1" height="3" fill="#000"/>
<rect x="325" y="659" width="1" height="3" fill="#000"/>
<rect x="389" y="659" width="1" height="3" fill="#000"/>
<rect x="453" y="659" width="1" height="3" fill="#000"/>
<rect x="517" y="659" width="1" height="3" fill="#000"/>
<rect x="581" y="659" width="1" height="3" fill="#000"/>
<rect x="645" y="659" width="1" height="3" fill="#000"/>
<rect x="709" y="659" width="1" height="3" fill="#000"/>
<rect x="773" y="659" width="1" height="3" fill="#000"/>
<rect x="837" y="659" width="1" height="3" fill="#000"/>
<rect x="901" y="659" width="1" height="3" fill="#000"/>
</g>
<text x="4.5" y="671" font-size="9.4" fill="#000" class="b" textLength="53" lengthAdjust="spacingAndGlyphs">28 May 2021</text>
<text x="68.5" y="671" font-size="9.4" fill="#000" class="b" textLength="47" lengthAdjust="spacingAndGlyphs">2 Jun 14:00</text>
<text x="132.5" y="671" font-size="9.4" fill="#000" class="b" textLength="47" lengthAdjust="spacingAndGlyphs">7 Jun 07:00</text>
<text x="196.5" y="671" font-size="9.4" fill="#000" class="b" textLength="47" lengthAdjust="spacingAndGlyphs">9 Jun 22:00</text>
<text x="260.5" y="671" font-size="9.4" fill="#000" class="b" textLength="52" lengthAdjust="spacingAndGlyphs">14 Jun 15:00</text>
<text x="324.5" y="671" font-size="9.4" fill="#000" class="b" textLength="52" lengthAdjust="spacingAndGlyphs">17 Jun 04:00</text>
<text x="388.5" y="671" font-size="9.4" fill="#000" class="b" textLength="52" lengthAdjust="spacingAndGlyphs">21 Jun 23:00</text>
<text x="452.5" y="671" font-size="9.4" fill="#000" class="b" textLength="52" lengthAdjust="spacingAndGlyphs">24 Jun 14:00</text>
<text x="516.5" y="671" font-size="9.4" fill="#000" class="b" textLength="52" lengthAdjust="spacingAndGlyphs">29 Jun 04:00</text>
<text x="580.5" y="671" font-size="9.4" fill="#000" class="b" textLength="44" lengthAdjust="spacingAndGlyphs">1 Jul 22:00</text>
<text x="644.5" y="671" font-size="9.4" fill="#000" class="b" textLength="44" lengthAdjust="spacingAndGlyphs">6 Jul 14:00</text>
<text x="708.5" y="671" font-size="9.4" fill="#000" class="b" textLength="44" lengthAdjust="spacingAndGlyphs">9 Jul 04:00</text>
<text x="772.5" y="671" font-size="9.4" fill="#000" class="b" textLength="49" lengthAdjust="spacingAndGlyphs">13 Jul 22:00</text>
<text x="836.5" y="671" font-size="9.4" fill="#000" class="b" textLength="49" lengthAdjust="spacingAndGlyphs">16 Jul 14:00</text>
<text x="900.5" y="671" font-size="9.4" fill="#000" class="b" textLength="49" lengthAdjust="spacingAndGlyphs">21 Jul 04:00</text>
<polygon points="8,34 11.5,30 15,34" fill="#000" shape-rendering="crispEdges"/>
<text x="20" y="35" font-size="9.6" fill="#000" class="b" textLength="55.3" lengthAdjust="spacingAndGlyphs">USDCHF,H4</text>
<text x="81" y="35" font-size="9.6" fill="#000" class="b" textLength="140.4" lengthAdjust="spacingAndGlyphs">0.91728 0.91770 0.91715 0.91747</text>
<defs><linearGradient id="gsb" x1="0" y1="0" x2="0" y2="1"><stop offset="0" stop-color="#5e5eff"/><stop offset="1" stop-color="#3833e0"/></linearGradient><linearGradient id="gpr" x1="0" y1="0" x2="0" y2="1"><stop offset="0" stop-color="#2e2ad8"/><stop offset="0.6" stop-color="#1308c4"/><stop offset="1" stop-color="#0000b0"/></linearGradient><linearGradient id="gbt" x1="0" y1="0" x2="0" y2="1"><stop offset="0" stop-color="#f4f4f4"/><stop offset="1" stop-color="#d6d6d6"/></linearGradient></defs>
<g shape-rendering="crispEdges">
<rect x="6" y="41" width="223" height="61" fill="#ffffff"/>
<rect x="8" y="43" width="52" height="24" fill="#0000b0"/>
<rect x="9" y="44" width="50" height="23" fill="url(#gsb)"/>
<rect x="8" y="67" width="108" height="33" fill="#0000b0"/>
<rect x="9" y="67" width="106" height="32" fill="url(#gpr)"/>
<rect x="9" y="66" width="50" height="1" fill="url(#gsb)"/>
<rect x="12" y="66" width="44" height="1" fill="#000080"/>
<rect x="12" y="67" width="44" height="1" fill="#7a7aff"/>
<rect x="175" y="43" width="52" height="24" fill="#0000b0"/>
<rect x="176" y="44" width="50" height="23" fill="url(#gsb)"/>
<rect x="119" y="67" width="108" height="33" fill="#0000b0"/>
<rect x="120" y="67" width="106" height="32" fill="url(#gpr)"/>
<rect x="176" y="66" width="50" height="1" fill="url(#gsb)"/>
<rect x="179" y="66" width="44" height="1" fill="#000080"/>
<rect x="179" y="67" width="44" height="1" fill="#7a7aff"/>
<rect x="62" y="43" width="111" height="22" fill="#ffffff"/>
<rect x="62.5" y="43.5" width="110" height="21" fill="none" stroke="#a8a8a8"/>
<rect x="63" y="44" width="20" height="20" fill="url(#gbt)"/>
<rect x="152" y="44" width="20" height="20" fill="url(#gbt)"/>
<rect x="83" y="44" width="1" height="20" fill="#c8c8c8"/>
<rect x="151" y="44" width="1" height="20" fill="#c8c8c8"/>
</g>
<polygon points="70,52 76,52 73,55" fill="#4a5ab8"/>
<polygon points="159,55 165,55 162,52" fill="#4a5ab8"/>
<text x="147.3" y="58" font-size="11.8" fill="#000" text-anchor="end">3.00</text>
<text x="20.2" y="59" font-size="12" fill="#f0f0ff" textLength="26.2" lengthAdjust="spacingAndGlyphs">SELL</text>
<text x="187.8" y="59" font-size="12" fill="#f0f0ff" textLength="24.6" lengthAdjust="spacingAndGlyphs">BUY</text>
<text x="27.6" y="94.8" font-size="11.5" fill="#ffffff" font-weight="bold" textLength="24.6" lengthAdjust="spacingAndGlyphs">0.91</text>
<text x="54" y="95.1" font-size="34.5" fill="#ffffff">75</text>
<text x="95.6" y="79" font-size="10.6" fill="#ffffff" font-weight="bold">0</text>
<text x="138.6" y="94.8" font-size="11.5" fill="#ffffff" font-weight="bold" textLength="24.6" lengthAdjust="spacingAndGlyphs">0.91</text>
<text x="165" y="95.1" font-size="34.5" fill="#ffffff">76</text>
<text x="206.6" y="79" font-size="10.6" fill="#ffffff" font-weight="bold">5</text>
<g shape-rendering="crispEdges">
<rect x="0" y="679" width="1207" height="1" fill="#e3e3e3"/>
<rect x="0" y="680" width="1207" height="27" fill="#f0f0f0"/>
<rect x="0" y="681" width="1207" height="1" fill="#000"/>
<rect x="0" y="701" width="1207" height="1" fill="#fafafa"/>
<rect x="0" y="705" width="1207" height="1" fill="#a0a0a0"/>
<rect x="0" y="706" width="1207" height="1" fill="#e8e8e8"/>
<rect x="0" y="682" width="1" height="19" fill="#a0a0a0"/>
<rect x="1" y="682" width="1" height="19" fill="#696969"/>
<rect x="203" y="681" width="87" height="18" fill="#ffffff"/>
<rect x="202" y="682" width="1" height="18" fill="#000"/>
<rect x="289" y="682" width="1" height="18" fill="#000"/>
<rect x="202" y="699" width="88" height="1" fill="#000"/>
<rect x="98" y="685" width="1" height="12" fill="#6d6d6d"/>
<rect x="394" y="685" width="1" height="12" fill="#6d6d6d"/>
<rect x="498" y="685" width="1" height="12" fill="#6d6d6d"/>
<rect x="574" y="685" width="1" height="12" fill="#6d6d6d"/>
<rect x="642" y="685" width="1" height="12" fill="#6d6d6d"/>
<rect x="718" y="685" width="1" height="12" fill="#6d6d6d"/>
<rect x="810" y="685" width="1" height="12" fill="#6d6d6d"/>
<rect x="902" y="685" width="1" height="12" fill="#6d6d6d"/>
</g>
<text x="18.6" y="696" font-size="12.4" fill="#6d6d6d" textLength="67.2" lengthAdjust="spacingAndGlyphs">EURUSD,H4</text>
<text x="109" y="696" font-size="12.4" fill="#6d6d6d" textLength="82.0" lengthAdjust="spacingAndGlyphs">AUDUSD,Daily</text>
<text x="212.3" y="696" font-size="12.4" fill="#000" textLength="66.6" lengthAdjust="spacingAndGlyphs">USDCHF,H4</text>
<text x="300.5" y="696" font-size="12.4" fill="#6d6d6d" textLength="81.2" lengthAdjust="spacingAndGlyphs">USDCAD,Daily</text>
<text x="404.3" y="696" font-size="12.4" fill="#6d6d6d" textLength="82.8" lengthAdjust="spacingAndGlyphs">USDCNH,Daily</text>
<text x="510.3" y="696" font-size="12.4" fill="#6d6d6d" textLength="51.4" lengthAdjust="spacingAndGlyphs">UKOil,H1</text>
<text x="584.2" y="696" font-size="12.4" fill="#6d6d6d" textLength="46.1" lengthAdjust="spacingAndGlyphs">DJ30,H1</text>
<text x="654" y="696" font-size="12.4" fill="#6d6d6d" textLength="51.7" lengthAdjust="spacingAndGlyphs">USDX,H1</text>
<text x="728.9" y="696" font-size="12.4" fill="#6d6d6d" textLength="68.6" lengthAdjust="spacingAndGlyphs">XAUUSD,H1</text>
<text x="822.3" y="696" font-size="12.4" fill="#6d6d6d" textLength="67.0" lengthAdjust="spacingAndGlyphs">GBPUSD,H1</text>
<polygon points="1182.6,690 1186.2,686.6 1186.2,693.4" fill="#8c8c8c"/>
<polygon points="1205.6,690 1202,686.6 1202,693.4" fill="#8c8c8c"/>
</svg>
</body></html>
